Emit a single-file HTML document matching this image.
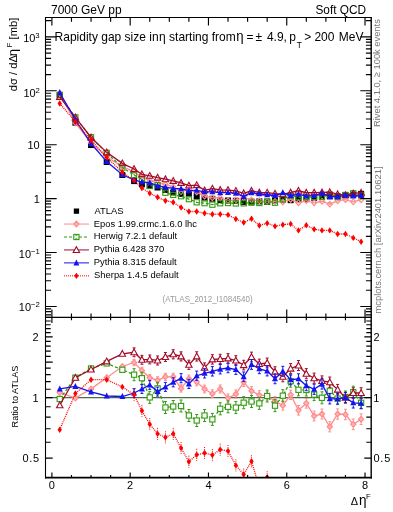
<!DOCTYPE html>
<html><head><meta charset="utf-8"><style>
html,body{margin:0;padding:0;background:#fff;}
body{width:393px;height:512px;overflow:hidden;position:relative;font-family:"Liberation Sans",sans-serif;}
svg{position:absolute;left:0;top:0;will-change:transform;}
.t{position:absolute;white-space:nowrap;line-height:1;color:#000;}
</style></head><body>
<svg width="393" height="512" viewBox="0 0 393 512" font-family="Liberation Sans, sans-serif">
<defs><clipPath id="cm"><rect x="46" y="18" width="325" height="299"/></clipPath><clipPath id="cr"><rect x="46" y="318" width="325" height="159.5"/></clipPath></defs>
<rect width="393" height="512" fill="#fff"/>
<line x1="45.5" y1="397.55" x2="371.5" y2="397.55" stroke="#4a6a44" stroke-width="1.2"/>
<rect x="56.73" y="91.8" width="6" height="6" fill="#000"/>
<rect x="72.38" y="119.7" width="6" height="6" fill="#000"/>
<rect x="88.04" y="142" width="6" height="6" fill="#000"/>
<rect x="103.7" y="159" width="6" height="6" fill="#000"/>
<rect x="119.35" y="172" width="6" height="6" fill="#000"/>
<rect x="131.09" y="178.1" width="6" height="6" fill="#000"/>
<rect x="138.92" y="181.35" width="6" height="6" fill="#000"/>
<rect x="146.75" y="183" width="6" height="6" fill="#000"/>
<rect x="154.58" y="184.5" width="6" height="6" fill="#000"/>
<rect x="162.41" y="187" width="6" height="6" fill="#000"/>
<rect x="170.23" y="189.45" width="6" height="6" fill="#000"/>
<rect x="178.06" y="190.9" width="6" height="6" fill="#000"/>
<rect x="185.89" y="191.3" width="6" height="6" fill="#000"/>
<rect x="193.72" y="193.1" width="6" height="6" fill="#000"/>
<rect x="201.55" y="195.3" width="6" height="6" fill="#000"/>
<rect x="209.37" y="195.8" width="6" height="6" fill="#000"/>
<rect x="217.2" y="197.2" width="6" height="6" fill="#000"/>
<rect x="225.03" y="197.5" width="6" height="6" fill="#000"/>
<rect x="232.86" y="197.75" width="6" height="6" fill="#000"/>
<rect x="240.69" y="198.9" width="6" height="6" fill="#000"/>
<rect x="248.51" y="198.6" width="6" height="6" fill="#000"/>
<rect x="256.34" y="198.4" width="6" height="6" fill="#000"/>
<rect x="264.17" y="198.8" width="6" height="6" fill="#000"/>
<rect x="272" y="197.5" width="6" height="6" fill="#000"/>
<rect x="279.83" y="196.8" width="6" height="6" fill="#000"/>
<rect x="287.65" y="197.2" width="6" height="6" fill="#000"/>
<rect x="295.48" y="196.3" width="6" height="6" fill="#000"/>
<rect x="303.31" y="196.1" width="6" height="6" fill="#000"/>
<rect x="311.14" y="194.8" width="6" height="6" fill="#000"/>
<rect x="318.97" y="193.8" width="6" height="6" fill="#000"/>
<rect x="326.79" y="193.3" width="6" height="6" fill="#000"/>
<rect x="334.62" y="193.3" width="6" height="6" fill="#000"/>
<rect x="342.45" y="192.1" width="6" height="6" fill="#000"/>
<rect x="350.28" y="191.65" width="6" height="6" fill="#000"/>
<rect x="358.11" y="190.9" width="6" height="6" fill="#000"/>
<polyline clip-path="url(#cm)" points="59.73,93.49 75.38,122.86 91.04,142.72 106.7,156.72 122.35,166.72 134.09,171.75 141.92,177.17 149.75,180.75 157.58,182.89 165.41,184.48 173.23,186.93 181.06,191.49 188.89,189.32 196.72,191.97 204.55,196.05 212.37,197.81 220.2,197.95 228.03,200.69 235.86,199.87 243.69,197.85 251.51,199.89 259.34,200.78 267.17,201.34 275,201.52 282.83,201.97 290.65,199.5 298.48,202.76 306.31,200.68 314.14,202.78 321.97,201.25 329.79,204.18 337.62,200.75 345.45,199.68 353.28,201.86 361.11,199.74" fill="none" stroke="#ff8c8c" stroke-width="1.3"/>
<polyline clip-path="url(#cr)" points="59.73,392.5 75.38,398 91.04,388.9 106.7,377.7 122.35,366.5 134.09,362.5 141.92,370.6 149.75,377.8 157.58,380.2 165.41,376.8 173.23,376.8 181.06,388.4 188.89,378.8 196.72,382 204.55,389 212.37,393.7 220.2,389 228.03,398.1 235.86,394.1 243.69,382.3 251.51,391 259.34,395.1 267.17,395.7 275,401.2 282.83,405.5 290.65,394.8 298.48,410.3 306.31,403.3 314.14,416 321.97,414 329.79,426.8 337.62,414 345.45,414.5 353.28,424.3 361.11,419.2" fill="none" stroke="#ff8c8c" stroke-width="1.3"/>
<g clip-path="url(#cm)"><polygon points="59.73,90.69 62.33,93.49 59.73,96.29 57.13,93.49" fill="none" stroke="#ff8c8c" stroke-width="1.2"/></g>
<g clip-path="url(#cr)"><polygon points="59.73,389.7 62.33,392.5 59.73,395.3 57.13,392.5" fill="#ffb4b4" stroke="#ff8c8c" stroke-width="1.2"/></g>
<g clip-path="url(#cm)"><polygon points="75.38,120.06 77.98,122.86 75.38,125.66 72.78,122.86" fill="none" stroke="#ff8c8c" stroke-width="1.2"/></g>
<g clip-path="url(#cr)"><polygon points="75.38,395.2 77.98,398 75.38,400.8 72.78,398" fill="#ffb4b4" stroke="#ff8c8c" stroke-width="1.2"/></g>
<g clip-path="url(#cm)"><polygon points="91.04,139.92 93.64,142.72 91.04,145.52 88.44,142.72" fill="none" stroke="#ff8c8c" stroke-width="1.2"/></g>
<g clip-path="url(#cr)"><polygon points="91.04,386.1 93.64,388.9 91.04,391.7 88.44,388.9" fill="#ffb4b4" stroke="#ff8c8c" stroke-width="1.2"/></g>
<g clip-path="url(#cm)"><polygon points="106.7,153.92 109.3,156.72 106.7,159.52 104.1,156.72" fill="none" stroke="#ff8c8c" stroke-width="1.2"/></g>
<g clip-path="url(#cr)"><polygon points="106.7,374.9 109.3,377.7 106.7,380.5 104.1,377.7" fill="#ffb4b4" stroke="#ff8c8c" stroke-width="1.2"/></g>
<g clip-path="url(#cm)"><polygon points="122.35,163.92 124.95,166.72 122.35,169.52 119.75,166.72" fill="none" stroke="#ff8c8c" stroke-width="1.2"/></g>
<g clip-path="url(#cr)"><polygon points="122.35,363.7 124.95,366.5 122.35,369.3 119.75,366.5" fill="#ffb4b4" stroke="#ff8c8c" stroke-width="1.2"/></g>
<g clip-path="url(#cr)" stroke="#ff8c8c" stroke-width="1"><path d="M134.09,359.3V359.7M134.09,365.3V365.7"/><line x1="132.59" y1="359.3" x2="135.59" y2="359.3"/><line x1="132.59" y1="365.7" x2="135.59" y2="365.7"/></g>
<g clip-path="url(#cm)"><polygon points="134.09,168.95 136.69,171.75 134.09,174.55 131.49,171.75" fill="none" stroke="#ff8c8c" stroke-width="1.2"/></g>
<g clip-path="url(#cr)"><polygon points="134.09,359.7 136.69,362.5 134.09,365.3 131.49,362.5" fill="#ffb4b4" stroke="#ff8c8c" stroke-width="1.2"/></g>
<g clip-path="url(#cr)" stroke="#ff8c8c" stroke-width="1"><path d="M141.92,367.33V367.8M141.92,373.4V373.88"/><line x1="140.42" y1="367.33" x2="143.42" y2="367.33"/><line x1="140.42" y1="373.88" x2="143.42" y2="373.88"/></g>
<g clip-path="url(#cm)"><polygon points="141.92,174.37 144.52,177.17 141.92,179.97 139.32,177.17" fill="none" stroke="#ff8c8c" stroke-width="1.2"/></g>
<g clip-path="url(#cr)"><polygon points="141.92,367.8 144.52,370.6 141.92,373.4 139.32,370.6" fill="#ffb4b4" stroke="#ff8c8c" stroke-width="1.2"/></g>
<g clip-path="url(#cr)" stroke="#ff8c8c" stroke-width="1"><path d="M149.75,374.45V375M149.75,380.6V381.15"/><line x1="148.25" y1="374.45" x2="151.25" y2="374.45"/><line x1="148.25" y1="381.15" x2="151.25" y2="381.15"/></g>
<g clip-path="url(#cm)"><polygon points="149.75,177.95 152.35,180.75 149.75,183.55 147.15,180.75" fill="none" stroke="#ff8c8c" stroke-width="1.2"/></g>
<g clip-path="url(#cr)"><polygon points="149.75,375 152.35,377.8 149.75,380.6 147.15,377.8" fill="#ffb4b4" stroke="#ff8c8c" stroke-width="1.2"/></g>
<g clip-path="url(#cr)" stroke="#ff8c8c" stroke-width="1"><path d="M157.58,376.77V377.4M157.58,383V383.62"/><line x1="156.08" y1="376.77" x2="159.08" y2="376.77"/><line x1="156.08" y1="383.62" x2="159.08" y2="383.62"/></g>
<g clip-path="url(#cm)"><polygon points="157.58,180.09 160.18,182.89 157.58,185.69 154.98,182.89" fill="none" stroke="#ff8c8c" stroke-width="1.2"/></g>
<g clip-path="url(#cr)"><polygon points="157.58,377.4 160.18,380.2 157.58,383 154.98,380.2" fill="#ffb4b4" stroke="#ff8c8c" stroke-width="1.2"/></g>
<g clip-path="url(#cr)" stroke="#ff8c8c" stroke-width="1"><path d="M165.41,373.3V374M165.41,379.6V380.3"/><line x1="163.91" y1="373.3" x2="166.91" y2="373.3"/><line x1="163.91" y1="380.3" x2="166.91" y2="380.3"/></g>
<g clip-path="url(#cm)"><polygon points="165.41,181.68 168.01,184.48 165.41,187.28 162.81,184.48" fill="none" stroke="#ff8c8c" stroke-width="1.2"/></g>
<g clip-path="url(#cr)"><polygon points="165.41,374 168.01,376.8 165.41,379.6 162.81,376.8" fill="#ffb4b4" stroke="#ff8c8c" stroke-width="1.2"/></g>
<g clip-path="url(#cr)" stroke="#ff8c8c" stroke-width="1"><path d="M173.23,373.23V374M173.23,379.6V380.38"/><line x1="171.73" y1="373.23" x2="174.73" y2="373.23"/><line x1="171.73" y1="380.38" x2="174.73" y2="380.38"/></g>
<g clip-path="url(#cm)"><polygon points="173.23,184.13 175.83,186.93 173.23,189.73 170.63,186.93" fill="none" stroke="#ff8c8c" stroke-width="1.2"/></g>
<g clip-path="url(#cr)"><polygon points="173.23,374 175.83,376.8 173.23,379.6 170.63,376.8" fill="#ffb4b4" stroke="#ff8c8c" stroke-width="1.2"/></g>
<g clip-path="url(#cr)" stroke="#ff8c8c" stroke-width="1"><path d="M181.06,384.75V385.6M181.06,391.2V392.05"/><line x1="179.56" y1="384.75" x2="182.56" y2="384.75"/><line x1="179.56" y1="392.05" x2="182.56" y2="392.05"/></g>
<g clip-path="url(#cm)"><polygon points="181.06,188.69 183.66,191.49 181.06,194.29 178.46,191.49" fill="none" stroke="#ff8c8c" stroke-width="1.2"/></g>
<g clip-path="url(#cr)"><polygon points="181.06,385.6 183.66,388.4 181.06,391.2 178.46,388.4" fill="#ffb4b4" stroke="#ff8c8c" stroke-width="1.2"/></g>
<g clip-path="url(#cr)" stroke="#ff8c8c" stroke-width="1"><path d="M188.89,375.07V376M188.89,381.6V382.53"/><line x1="187.39" y1="375.07" x2="190.39" y2="375.07"/><line x1="187.39" y1="382.53" x2="190.39" y2="382.53"/></g>
<g clip-path="url(#cm)"><polygon points="188.89,186.52 191.49,189.32 188.89,192.12 186.29,189.32" fill="none" stroke="#ff8c8c" stroke-width="1.2"/></g>
<g clip-path="url(#cr)"><polygon points="188.89,376 191.49,378.8 188.89,381.6 186.29,378.8" fill="#ffb4b4" stroke="#ff8c8c" stroke-width="1.2"/></g>
<g clip-path="url(#cr)" stroke="#ff8c8c" stroke-width="1"><path d="M196.72,378.2V379.2M196.72,384.8V385.8"/><line x1="195.22" y1="378.2" x2="198.22" y2="378.2"/><line x1="195.22" y1="385.8" x2="198.22" y2="385.8"/></g>
<g clip-path="url(#cm)"><polygon points="196.72,189.17 199.32,191.97 196.72,194.77 194.12,191.97" fill="none" stroke="#ff8c8c" stroke-width="1.2"/></g>
<g clip-path="url(#cr)"><polygon points="196.72,379.2 199.32,382 196.72,384.8 194.12,382" fill="#ffb4b4" stroke="#ff8c8c" stroke-width="1.2"/></g>
<g clip-path="url(#cr)" stroke="#ff8c8c" stroke-width="1"><path d="M204.55,385.12V386.2M204.55,391.8V392.88"/><line x1="203.05" y1="385.12" x2="206.05" y2="385.12"/><line x1="203.05" y1="392.88" x2="206.05" y2="392.88"/></g>
<g clip-path="url(#cm)"><polygon points="204.55,193.25 207.15,196.05 204.55,198.85 201.95,196.05" fill="none" stroke="#ff8c8c" stroke-width="1.2"/></g>
<g clip-path="url(#cr)"><polygon points="204.55,386.2 207.15,389 204.55,391.8 201.95,389" fill="#ffb4b4" stroke="#ff8c8c" stroke-width="1.2"/></g>
<g clip-path="url(#cr)" stroke="#ff8c8c" stroke-width="1"><path d="M212.37,389.75V390.9M212.37,396.5V397.65"/><line x1="210.87" y1="389.75" x2="213.87" y2="389.75"/><line x1="210.87" y1="397.65" x2="213.87" y2="397.65"/></g>
<g clip-path="url(#cm)"><polygon points="212.37,195.01 214.97,197.81 212.37,200.61 209.77,197.81" fill="none" stroke="#ff8c8c" stroke-width="1.2"/></g>
<g clip-path="url(#cr)"><polygon points="212.37,390.9 214.97,393.7 212.37,396.5 209.77,393.7" fill="#ffb4b4" stroke="#ff8c8c" stroke-width="1.2"/></g>
<g clip-path="url(#cr)" stroke="#ff8c8c" stroke-width="1"><path d="M220.2,384.98V386.2M220.2,391.8V393.02"/><line x1="218.7" y1="384.98" x2="221.7" y2="384.98"/><line x1="218.7" y1="393.02" x2="221.7" y2="393.02"/></g>
<g clip-path="url(#cm)"><polygon points="220.2,195.15 222.8,197.95 220.2,200.75 217.6,197.95" fill="none" stroke="#ff8c8c" stroke-width="1.2"/></g>
<g clip-path="url(#cr)"><polygon points="220.2,386.2 222.8,389 220.2,391.8 217.6,389" fill="#ffb4b4" stroke="#ff8c8c" stroke-width="1.2"/></g>
<g clip-path="url(#cr)" stroke="#ff8c8c" stroke-width="1"><path d="M228.03,394V395.3M228.03,400.9V402.2"/><line x1="226.53" y1="394" x2="229.53" y2="394"/><line x1="226.53" y1="402.2" x2="229.53" y2="402.2"/></g>
<g clip-path="url(#cm)"><polygon points="228.03,197.89 230.63,200.69 228.03,203.49 225.43,200.69" fill="none" stroke="#ff8c8c" stroke-width="1.2"/></g>
<g clip-path="url(#cr)"><polygon points="228.03,395.3 230.63,398.1 228.03,400.9 225.43,398.1" fill="#ffb4b4" stroke="#ff8c8c" stroke-width="1.2"/></g>
<g clip-path="url(#cr)" stroke="#ff8c8c" stroke-width="1"><path d="M235.86,389.93V391.3M235.86,396.9V398.28"/><line x1="234.36" y1="389.93" x2="237.36" y2="389.93"/><line x1="234.36" y1="398.28" x2="237.36" y2="398.28"/></g>
<g clip-path="url(#cm)"><polygon points="235.86,197.07 238.46,199.87 235.86,202.67 233.26,199.87" fill="none" stroke="#ff8c8c" stroke-width="1.2"/></g>
<g clip-path="url(#cr)"><polygon points="235.86,391.3 238.46,394.1 235.86,396.9 233.26,394.1" fill="#ffb4b4" stroke="#ff8c8c" stroke-width="1.2"/></g>
<g clip-path="url(#cr)" stroke="#ff8c8c" stroke-width="1"><path d="M243.69,378.05V379.5M243.69,385.1V386.55"/><line x1="242.19" y1="378.05" x2="245.19" y2="378.05"/><line x1="242.19" y1="386.55" x2="245.19" y2="386.55"/></g>
<g clip-path="url(#cm)"><polygon points="243.69,195.05 246.29,197.85 243.69,200.65 241.09,197.85" fill="none" stroke="#ff8c8c" stroke-width="1.2"/></g>
<g clip-path="url(#cr)"><polygon points="243.69,379.5 246.29,382.3 243.69,385.1 241.09,382.3" fill="#ffb4b4" stroke="#ff8c8c" stroke-width="1.2"/></g>
<g clip-path="url(#cr)" stroke="#ff8c8c" stroke-width="1"><path d="M251.51,386.68V388.2M251.51,393.8V395.32"/><line x1="250.01" y1="386.68" x2="253.01" y2="386.68"/><line x1="250.01" y1="395.32" x2="253.01" y2="395.32"/></g>
<g clip-path="url(#cm)"><polygon points="251.51,197.09 254.11,199.89 251.51,202.69 248.91,199.89" fill="none" stroke="#ff8c8c" stroke-width="1.2"/></g>
<g clip-path="url(#cr)"><polygon points="251.51,388.2 254.11,391 251.51,393.8 248.91,391" fill="#ffb4b4" stroke="#ff8c8c" stroke-width="1.2"/></g>
<g clip-path="url(#cr)" stroke="#ff8c8c" stroke-width="1"><path d="M259.34,390.7V392.3M259.34,397.9V399.5"/><line x1="257.84" y1="390.7" x2="260.84" y2="390.7"/><line x1="257.84" y1="399.5" x2="260.84" y2="399.5"/></g>
<g clip-path="url(#cm)"><polygon points="259.34,197.98 261.94,200.78 259.34,203.58 256.74,200.78" fill="none" stroke="#ff8c8c" stroke-width="1.2"/></g>
<g clip-path="url(#cr)"><polygon points="259.34,392.3 261.94,395.1 259.34,397.9 256.74,395.1" fill="#ffb4b4" stroke="#ff8c8c" stroke-width="1.2"/></g>
<g clip-path="url(#cr)" stroke="#ff8c8c" stroke-width="1"><path d="M267.17,391.22V392.9M267.17,398.5V400.18"/><line x1="265.67" y1="391.22" x2="268.67" y2="391.22"/><line x1="265.67" y1="400.18" x2="268.67" y2="400.18"/></g>
<g clip-path="url(#cm)"><polygon points="267.17,198.54 269.77,201.34 267.17,204.14 264.57,201.34" fill="none" stroke="#ff8c8c" stroke-width="1.2"/></g>
<g clip-path="url(#cr)"><polygon points="267.17,392.9 269.77,395.7 267.17,398.5 264.57,395.7" fill="#ffb4b4" stroke="#ff8c8c" stroke-width="1.2"/></g>
<g clip-path="url(#cr)" stroke="#ff8c8c" stroke-width="1"><path d="M275,396.65V398.4M275,404V405.75"/><line x1="273.5" y1="396.65" x2="276.5" y2="396.65"/><line x1="273.5" y1="405.75" x2="276.5" y2="405.75"/></g>
<g clip-path="url(#cm)"><polygon points="275,198.72 277.6,201.52 275,204.32 272.4,201.52" fill="none" stroke="#ff8c8c" stroke-width="1.2"/></g>
<g clip-path="url(#cr)"><polygon points="275,398.4 277.6,401.2 275,404 272.4,401.2" fill="#ffb4b4" stroke="#ff8c8c" stroke-width="1.2"/></g>
<g clip-path="url(#cr)" stroke="#ff8c8c" stroke-width="1"><path d="M282.83,400.88V402.7M282.83,408.3V410.12"/><line x1="281.33" y1="400.88" x2="284.33" y2="400.88"/><line x1="281.33" y1="410.12" x2="284.33" y2="410.12"/></g>
<g clip-path="url(#cm)"><polygon points="282.83,199.17 285.43,201.97 282.83,204.77 280.23,201.97" fill="none" stroke="#ff8c8c" stroke-width="1.2"/></g>
<g clip-path="url(#cr)"><polygon points="282.83,402.7 285.43,405.5 282.83,408.3 280.23,405.5" fill="#ffb4b4" stroke="#ff8c8c" stroke-width="1.2"/></g>
<g clip-path="url(#cr)" stroke="#ff8c8c" stroke-width="1"><path d="M290.65,390.1V392M290.65,397.6V399.5"/><line x1="289.15" y1="390.1" x2="292.15" y2="390.1"/><line x1="289.15" y1="399.5" x2="292.15" y2="399.5"/></g>
<g clip-path="url(#cm)"><polygon points="290.65,196.7 293.25,199.5 290.65,202.3 288.05,199.5" fill="none" stroke="#ff8c8c" stroke-width="1.2"/></g>
<g clip-path="url(#cr)"><polygon points="290.65,392 293.25,394.8 290.65,397.6 288.05,394.8" fill="#ffb4b4" stroke="#ff8c8c" stroke-width="1.2"/></g>
<g clip-path="url(#cr)" stroke="#ff8c8c" stroke-width="1"><path d="M298.48,405.53V407.5M298.48,413.1V415.07"/><line x1="296.98" y1="405.53" x2="299.98" y2="405.53"/><line x1="296.98" y1="415.07" x2="299.98" y2="415.07"/></g>
<g clip-path="url(#cm)"><polygon points="298.48,199.96 301.08,202.76 298.48,205.56 295.88,202.76" fill="none" stroke="#ff8c8c" stroke-width="1.2"/></g>
<g clip-path="url(#cr)"><polygon points="298.48,407.5 301.08,410.3 298.48,413.1 295.88,410.3" fill="#ffb4b4" stroke="#ff8c8c" stroke-width="1.2"/></g>
<g clip-path="url(#cr)" stroke="#ff8c8c" stroke-width="1"><path d="M306.31,398.45V400.5M306.31,406.1V408.15"/><line x1="304.81" y1="398.45" x2="307.81" y2="398.45"/><line x1="304.81" y1="408.15" x2="307.81" y2="408.15"/></g>
<g clip-path="url(#cm)"><polygon points="306.31,197.88 308.91,200.68 306.31,203.48 303.71,200.68" fill="none" stroke="#ff8c8c" stroke-width="1.2"/></g>
<g clip-path="url(#cr)"><polygon points="306.31,400.5 308.91,403.3 306.31,406.1 303.71,403.3" fill="#ffb4b4" stroke="#ff8c8c" stroke-width="1.2"/></g>
<g clip-path="url(#cr)" stroke="#ff8c8c" stroke-width="1"><path d="M314.14,411.07V413.2M314.14,418.8V420.93"/><line x1="312.64" y1="411.07" x2="315.64" y2="411.07"/><line x1="312.64" y1="420.93" x2="315.64" y2="420.93"/></g>
<g clip-path="url(#cm)"><polygon points="314.14,199.98 316.74,202.78 314.14,205.58 311.54,202.78" fill="none" stroke="#ff8c8c" stroke-width="1.2"/></g>
<g clip-path="url(#cr)"><polygon points="314.14,413.2 316.74,416 314.14,418.8 311.54,416" fill="#ffb4b4" stroke="#ff8c8c" stroke-width="1.2"/></g>
<g clip-path="url(#cr)" stroke="#ff8c8c" stroke-width="1"><path d="M321.97,409V411.2M321.97,416.8V419"/><line x1="320.47" y1="409" x2="323.47" y2="409"/><line x1="320.47" y1="419" x2="323.47" y2="419"/></g>
<g clip-path="url(#cm)"><polygon points="321.97,198.45 324.57,201.25 321.97,204.05 319.37,201.25" fill="none" stroke="#ff8c8c" stroke-width="1.2"/></g>
<g clip-path="url(#cr)"><polygon points="321.97,411.2 324.57,414 321.97,416.8 319.37,414" fill="#ffb4b4" stroke="#ff8c8c" stroke-width="1.2"/></g>
<g clip-path="url(#cr)" stroke="#ff8c8c" stroke-width="1"><path d="M329.79,421.73V424M329.79,429.6V431.88"/><line x1="328.29" y1="421.73" x2="331.29" y2="421.73"/><line x1="328.29" y1="431.88" x2="331.29" y2="431.88"/></g>
<g clip-path="url(#cm)"><polygon points="329.79,201.38 332.39,204.18 329.79,206.98 327.19,204.18" fill="none" stroke="#ff8c8c" stroke-width="1.2"/></g>
<g clip-path="url(#cr)"><polygon points="329.79,424 332.39,426.8 329.79,429.6 327.19,426.8" fill="#ffb4b4" stroke="#ff8c8c" stroke-width="1.2"/></g>
<g clip-path="url(#cr)" stroke="#ff8c8c" stroke-width="1"><path d="M337.62,408.85V411.2M337.62,416.8V419.15"/><line x1="336.12" y1="408.85" x2="339.12" y2="408.85"/><line x1="336.12" y1="419.15" x2="339.12" y2="419.15"/></g>
<g clip-path="url(#cm)"><polygon points="337.62,197.95 340.22,200.75 337.62,203.55 335.02,200.75" fill="none" stroke="#ff8c8c" stroke-width="1.2"/></g>
<g clip-path="url(#cr)"><polygon points="337.62,411.2 340.22,414 337.62,416.8 335.02,414" fill="#ffb4b4" stroke="#ff8c8c" stroke-width="1.2"/></g>
<g clip-path="url(#cr)" stroke="#ff8c8c" stroke-width="1"><path d="M345.45,409.27V411.7M345.45,417.3V419.73"/><line x1="343.95" y1="409.27" x2="346.95" y2="409.27"/><line x1="343.95" y1="419.73" x2="346.95" y2="419.73"/></g>
<g clip-path="url(#cm)"><polygon points="345.45,196.88 348.05,199.68 345.45,202.48 342.85,199.68" fill="none" stroke="#ff8c8c" stroke-width="1.2"/></g>
<g clip-path="url(#cr)"><polygon points="345.45,411.7 348.05,414.5 345.45,417.3 342.85,414.5" fill="#ffb4b4" stroke="#ff8c8c" stroke-width="1.2"/></g>
<g clip-path="url(#cr)" stroke="#ff8c8c" stroke-width="1"><path d="M353.28,419V421.5M353.28,427.1V429.6"/><line x1="351.78" y1="419" x2="354.78" y2="419"/><line x1="351.78" y1="429.6" x2="354.78" y2="429.6"/></g>
<g clip-path="url(#cm)"><polygon points="353.28,199.06 355.88,201.86 353.28,204.66 350.68,201.86" fill="none" stroke="#ff8c8c" stroke-width="1.2"/></g>
<g clip-path="url(#cr)"><polygon points="353.28,421.5 355.88,424.3 353.28,427.1 350.68,424.3" fill="#ffb4b4" stroke="#ff8c8c" stroke-width="1.2"/></g>
<g clip-path="url(#cr)" stroke="#ff8c8c" stroke-width="1"><path d="M361.11,413.82V416.4M361.11,422V424.57"/><line x1="359.61" y1="413.82" x2="362.61" y2="413.82"/><line x1="359.61" y1="424.57" x2="362.61" y2="424.57"/></g>
<g clip-path="url(#cm)"><polygon points="361.11,196.94 363.71,199.74 361.11,202.54 358.51,199.74" fill="none" stroke="#ff8c8c" stroke-width="1.2"/></g>
<g clip-path="url(#cr)"><polygon points="361.11,416.4 363.71,419.2 361.11,422 358.51,419.2" fill="#ffb4b4" stroke="#ff8c8c" stroke-width="1.2"/></g>
<polyline clip-path="url(#cm)" points="59.73,95.23 75.38,117.42 91.04,137.26 106.7,152.89 122.35,167.6 134.09,175.02 141.92,179.21 149.75,186 157.58,185.09 165.41,192.71 173.23,194.89 181.06,196.2 188.89,199.15 196.72,202.29 204.55,203.15 212.37,204.69 220.2,203.25 228.03,203.02 235.86,203.48 243.69,203.32 251.51,202.7 259.34,203.01 267.17,201.42 275,202.72 282.83,199.34 290.65,195.86 298.48,197.26 306.31,197.12 314.14,197.05 321.97,196.91 329.79,194.53 337.62,196.62 345.45,194.99 353.28,193.26 361.11,195.35" fill="none" stroke="#339a11" stroke-width="1.3" stroke-dasharray="3,2"/>
<polyline clip-path="url(#cr)" points="59.73,399 75.38,377.7 91.04,368.5 106.7,363.4 122.35,369.8 134.09,374.7 141.92,378.2 149.75,397.4 157.58,388.4 165.41,407.5 173.23,406.5 181.06,406 188.89,415.5 196.72,420.5 204.55,415.5 212.37,419.4 220.2,408.8 228.03,406.8 235.86,407.6 243.69,402.7 251.51,401.5 259.34,403.4 267.17,396 275,405.7 282.83,395.7 290.65,381.2 298.48,389.8 306.31,390 314.14,394.6 321.97,397.8 329.79,390.8 337.62,398.6 345.45,397 353.28,392.2 361.11,402.8" fill="none" stroke="#339a11" stroke-width="1.3" stroke-dasharray="3,2"/>
<g clip-path="url(#cm)"><rect x="57.13" y="92.63" width="5.2" height="5.2" fill="none" stroke="#339a11" stroke-width="1.1"/></g>
<g clip-path="url(#cr)"><rect x="57.13" y="396.4" width="5.2" height="5.2" fill="#fff" stroke="#339a11" stroke-width="1.1"/></g>
<g clip-path="url(#cm)"><rect x="72.78" y="114.82" width="5.2" height="5.2" fill="none" stroke="#339a11" stroke-width="1.1"/></g>
<g clip-path="url(#cr)"><rect x="72.78" y="375.1" width="5.2" height="5.2" fill="#fff" stroke="#339a11" stroke-width="1.1"/></g>
<g clip-path="url(#cm)"><rect x="88.44" y="134.66" width="5.2" height="5.2" fill="none" stroke="#339a11" stroke-width="1.1"/></g>
<g clip-path="url(#cr)"><rect x="88.44" y="365.9" width="5.2" height="5.2" fill="#fff" stroke="#339a11" stroke-width="1.1"/></g>
<g clip-path="url(#cm)"><rect x="104.1" y="150.29" width="5.2" height="5.2" fill="none" stroke="#339a11" stroke-width="1.1"/></g>
<g clip-path="url(#cr)"><rect x="104.1" y="360.8" width="5.2" height="5.2" fill="#fff" stroke="#339a11" stroke-width="1.1"/></g>
<g clip-path="url(#cm)"><rect x="119.75" y="165" width="5.2" height="5.2" fill="none" stroke="#339a11" stroke-width="1.1"/></g>
<g clip-path="url(#cr)"><rect x="119.75" y="367.2" width="5.2" height="5.2" fill="#fff" stroke="#339a11" stroke-width="1.1"/></g>
<g clip-path="url(#cr)" stroke="#339a11" stroke-width="1"><path d="M134.09,368.7V371.9M134.09,377.5V380.7"/><line x1="132.59" y1="368.7" x2="135.59" y2="368.7"/><line x1="132.59" y1="380.7" x2="135.59" y2="380.7"/></g>
<g clip-path="url(#cm)"><rect x="131.49" y="172.42" width="5.2" height="5.2" fill="none" stroke="#339a11" stroke-width="1.1"/></g>
<g clip-path="url(#cr)"><rect x="131.49" y="372.1" width="5.2" height="5.2" fill="#fff" stroke="#339a11" stroke-width="1.1"/></g>
<g clip-path="url(#cr)" stroke="#339a11" stroke-width="1"><path d="M141.92,372.2V375.4M141.92,381V384.2"/><line x1="140.42" y1="372.2" x2="143.42" y2="372.2"/><line x1="140.42" y1="384.2" x2="143.42" y2="384.2"/></g>
<g clip-path="url(#cm)"><rect x="139.32" y="176.61" width="5.2" height="5.2" fill="none" stroke="#339a11" stroke-width="1.1"/></g>
<g clip-path="url(#cr)"><rect x="139.32" y="375.6" width="5.2" height="5.2" fill="#fff" stroke="#339a11" stroke-width="1.1"/></g>
<g clip-path="url(#cr)" stroke="#339a11" stroke-width="1"><path d="M149.75,391.4V394.6M149.75,400.2V403.4"/><line x1="148.25" y1="391.4" x2="151.25" y2="391.4"/><line x1="148.25" y1="403.4" x2="151.25" y2="403.4"/></g>
<g clip-path="url(#cm)"><rect x="147.15" y="183.4" width="5.2" height="5.2" fill="none" stroke="#339a11" stroke-width="1.1"/></g>
<g clip-path="url(#cr)"><rect x="147.15" y="394.8" width="5.2" height="5.2" fill="#fff" stroke="#339a11" stroke-width="1.1"/></g>
<g clip-path="url(#cr)" stroke="#339a11" stroke-width="1"><path d="M157.58,382.4V385.6M157.58,391.2V394.4"/><line x1="156.08" y1="382.4" x2="159.08" y2="382.4"/><line x1="156.08" y1="394.4" x2="159.08" y2="394.4"/></g>
<g clip-path="url(#cm)"><rect x="154.98" y="182.49" width="5.2" height="5.2" fill="none" stroke="#339a11" stroke-width="1.1"/></g>
<g clip-path="url(#cr)"><rect x="154.98" y="385.8" width="5.2" height="5.2" fill="#fff" stroke="#339a11" stroke-width="1.1"/></g>
<g clip-path="url(#cr)" stroke="#339a11" stroke-width="1"><path d="M165.41,401.5V404.7M165.41,410.3V413.5"/><line x1="163.91" y1="401.5" x2="166.91" y2="401.5"/><line x1="163.91" y1="413.5" x2="166.91" y2="413.5"/></g>
<g clip-path="url(#cm)"><rect x="162.81" y="190.11" width="5.2" height="5.2" fill="none" stroke="#339a11" stroke-width="1.1"/></g>
<g clip-path="url(#cr)"><rect x="162.81" y="404.9" width="5.2" height="5.2" fill="#fff" stroke="#339a11" stroke-width="1.1"/></g>
<g clip-path="url(#cr)" stroke="#339a11" stroke-width="1"><path d="M173.23,400.5V403.7M173.23,409.3V412.5"/><line x1="171.73" y1="400.5" x2="174.73" y2="400.5"/><line x1="171.73" y1="412.5" x2="174.73" y2="412.5"/></g>
<g clip-path="url(#cm)"><rect x="170.63" y="192.29" width="5.2" height="5.2" fill="none" stroke="#339a11" stroke-width="1.1"/></g>
<g clip-path="url(#cr)"><rect x="170.63" y="403.9" width="5.2" height="5.2" fill="#fff" stroke="#339a11" stroke-width="1.1"/></g>
<g clip-path="url(#cr)" stroke="#339a11" stroke-width="1"><path d="M181.06,400V403.2M181.06,408.8V412"/><line x1="179.56" y1="400" x2="182.56" y2="400"/><line x1="179.56" y1="412" x2="182.56" y2="412"/></g>
<g clip-path="url(#cm)"><rect x="178.46" y="193.6" width="5.2" height="5.2" fill="none" stroke="#339a11" stroke-width="1.1"/></g>
<g clip-path="url(#cr)"><rect x="178.46" y="403.4" width="5.2" height="5.2" fill="#fff" stroke="#339a11" stroke-width="1.1"/></g>
<g clip-path="url(#cr)" stroke="#339a11" stroke-width="1"><path d="M188.89,409.5V412.7M188.89,418.3V421.5"/><line x1="187.39" y1="409.5" x2="190.39" y2="409.5"/><line x1="187.39" y1="421.5" x2="190.39" y2="421.5"/></g>
<g clip-path="url(#cm)"><rect x="186.29" y="196.55" width="5.2" height="5.2" fill="none" stroke="#339a11" stroke-width="1.1"/></g>
<g clip-path="url(#cr)"><rect x="186.29" y="412.9" width="5.2" height="5.2" fill="#fff" stroke="#339a11" stroke-width="1.1"/></g>
<g clip-path="url(#cr)" stroke="#339a11" stroke-width="1"><path d="M196.72,414.5V417.7M196.72,423.3V426.5"/><line x1="195.22" y1="414.5" x2="198.22" y2="414.5"/><line x1="195.22" y1="426.5" x2="198.22" y2="426.5"/></g>
<g clip-path="url(#cm)"><rect x="194.12" y="199.69" width="5.2" height="5.2" fill="none" stroke="#339a11" stroke-width="1.1"/></g>
<g clip-path="url(#cr)"><rect x="194.12" y="417.9" width="5.2" height="5.2" fill="#fff" stroke="#339a11" stroke-width="1.1"/></g>
<g clip-path="url(#cr)" stroke="#339a11" stroke-width="1"><path d="M204.55,409.5V412.7M204.55,418.3V421.5"/><line x1="203.05" y1="409.5" x2="206.05" y2="409.5"/><line x1="203.05" y1="421.5" x2="206.05" y2="421.5"/></g>
<g clip-path="url(#cm)"><rect x="201.95" y="200.55" width="5.2" height="5.2" fill="none" stroke="#339a11" stroke-width="1.1"/></g>
<g clip-path="url(#cr)"><rect x="201.95" y="412.9" width="5.2" height="5.2" fill="#fff" stroke="#339a11" stroke-width="1.1"/></g>
<g clip-path="url(#cr)" stroke="#339a11" stroke-width="1"><path d="M212.37,413.4V416.6M212.37,422.2V425.4"/><line x1="210.87" y1="413.4" x2="213.87" y2="413.4"/><line x1="210.87" y1="425.4" x2="213.87" y2="425.4"/></g>
<g clip-path="url(#cm)"><rect x="209.77" y="202.09" width="5.2" height="5.2" fill="none" stroke="#339a11" stroke-width="1.1"/></g>
<g clip-path="url(#cr)"><rect x="209.77" y="416.8" width="5.2" height="5.2" fill="#fff" stroke="#339a11" stroke-width="1.1"/></g>
<g clip-path="url(#cr)" stroke="#339a11" stroke-width="1"><path d="M220.2,402.8V406M220.2,411.6V414.8"/><line x1="218.7" y1="402.8" x2="221.7" y2="402.8"/><line x1="218.7" y1="414.8" x2="221.7" y2="414.8"/></g>
<g clip-path="url(#cm)"><rect x="217.6" y="200.65" width="5.2" height="5.2" fill="none" stroke="#339a11" stroke-width="1.1"/></g>
<g clip-path="url(#cr)"><rect x="217.6" y="406.2" width="5.2" height="5.2" fill="#fff" stroke="#339a11" stroke-width="1.1"/></g>
<g clip-path="url(#cr)" stroke="#339a11" stroke-width="1"><path d="M228.03,400.8V404M228.03,409.6V412.8"/><line x1="226.53" y1="400.8" x2="229.53" y2="400.8"/><line x1="226.53" y1="412.8" x2="229.53" y2="412.8"/></g>
<g clip-path="url(#cm)"><rect x="225.43" y="200.42" width="5.2" height="5.2" fill="none" stroke="#339a11" stroke-width="1.1"/></g>
<g clip-path="url(#cr)"><rect x="225.43" y="404.2" width="5.2" height="5.2" fill="#fff" stroke="#339a11" stroke-width="1.1"/></g>
<g clip-path="url(#cr)" stroke="#339a11" stroke-width="1"><path d="M235.86,401.6V404.8M235.86,410.4V413.6"/><line x1="234.36" y1="401.6" x2="237.36" y2="401.6"/><line x1="234.36" y1="413.6" x2="237.36" y2="413.6"/></g>
<g clip-path="url(#cm)"><rect x="233.26" y="200.88" width="5.2" height="5.2" fill="none" stroke="#339a11" stroke-width="1.1"/></g>
<g clip-path="url(#cr)"><rect x="233.26" y="405" width="5.2" height="5.2" fill="#fff" stroke="#339a11" stroke-width="1.1"/></g>
<g clip-path="url(#cr)" stroke="#339a11" stroke-width="1"><path d="M243.69,396.7V399.9M243.69,405.5V408.7"/><line x1="242.19" y1="396.7" x2="245.19" y2="396.7"/><line x1="242.19" y1="408.7" x2="245.19" y2="408.7"/></g>
<g clip-path="url(#cm)"><rect x="241.09" y="200.72" width="5.2" height="5.2" fill="none" stroke="#339a11" stroke-width="1.1"/></g>
<g clip-path="url(#cr)"><rect x="241.09" y="400.1" width="5.2" height="5.2" fill="#fff" stroke="#339a11" stroke-width="1.1"/></g>
<g clip-path="url(#cr)" stroke="#339a11" stroke-width="1"><path d="M251.51,395.5V398.7M251.51,404.3V407.5"/><line x1="250.01" y1="395.5" x2="253.01" y2="395.5"/><line x1="250.01" y1="407.5" x2="253.01" y2="407.5"/></g>
<g clip-path="url(#cm)"><rect x="248.91" y="200.1" width="5.2" height="5.2" fill="none" stroke="#339a11" stroke-width="1.1"/></g>
<g clip-path="url(#cr)"><rect x="248.91" y="398.9" width="5.2" height="5.2" fill="#fff" stroke="#339a11" stroke-width="1.1"/></g>
<g clip-path="url(#cr)" stroke="#339a11" stroke-width="1"><path d="M259.34,397.4V400.6M259.34,406.2V409.4"/><line x1="257.84" y1="397.4" x2="260.84" y2="397.4"/><line x1="257.84" y1="409.4" x2="260.84" y2="409.4"/></g>
<g clip-path="url(#cm)"><rect x="256.74" y="200.41" width="5.2" height="5.2" fill="none" stroke="#339a11" stroke-width="1.1"/></g>
<g clip-path="url(#cr)"><rect x="256.74" y="400.8" width="5.2" height="5.2" fill="#fff" stroke="#339a11" stroke-width="1.1"/></g>
<g clip-path="url(#cr)" stroke="#339a11" stroke-width="1"><path d="M267.17,390V393.2M267.17,398.8V402"/><line x1="265.67" y1="390" x2="268.67" y2="390"/><line x1="265.67" y1="402" x2="268.67" y2="402"/></g>
<g clip-path="url(#cm)"><rect x="264.57" y="198.82" width="5.2" height="5.2" fill="none" stroke="#339a11" stroke-width="1.1"/></g>
<g clip-path="url(#cr)"><rect x="264.57" y="393.4" width="5.2" height="5.2" fill="#fff" stroke="#339a11" stroke-width="1.1"/></g>
<g clip-path="url(#cr)" stroke="#339a11" stroke-width="1"><path d="M275,399.7V402.9M275,408.5V411.7"/><line x1="273.5" y1="399.7" x2="276.5" y2="399.7"/><line x1="273.5" y1="411.7" x2="276.5" y2="411.7"/></g>
<g clip-path="url(#cm)"><rect x="272.4" y="200.12" width="5.2" height="5.2" fill="none" stroke="#339a11" stroke-width="1.1"/></g>
<g clip-path="url(#cr)"><rect x="272.4" y="403.1" width="5.2" height="5.2" fill="#fff" stroke="#339a11" stroke-width="1.1"/></g>
<g clip-path="url(#cr)" stroke="#339a11" stroke-width="1"><path d="M282.83,389.7V392.9M282.83,398.5V401.7"/><line x1="281.33" y1="389.7" x2="284.33" y2="389.7"/><line x1="281.33" y1="401.7" x2="284.33" y2="401.7"/></g>
<g clip-path="url(#cm)"><rect x="280.23" y="196.74" width="5.2" height="5.2" fill="none" stroke="#339a11" stroke-width="1.1"/></g>
<g clip-path="url(#cr)"><rect x="280.23" y="393.1" width="5.2" height="5.2" fill="#fff" stroke="#339a11" stroke-width="1.1"/></g>
<g clip-path="url(#cr)" stroke="#339a11" stroke-width="1"><path d="M290.65,375.2V378.4M290.65,384V387.2"/><line x1="289.15" y1="375.2" x2="292.15" y2="375.2"/><line x1="289.15" y1="387.2" x2="292.15" y2="387.2"/></g>
<g clip-path="url(#cm)"><rect x="288.05" y="193.26" width="5.2" height="5.2" fill="none" stroke="#339a11" stroke-width="1.1"/></g>
<g clip-path="url(#cr)"><rect x="288.05" y="378.6" width="5.2" height="5.2" fill="#fff" stroke="#339a11" stroke-width="1.1"/></g>
<g clip-path="url(#cr)" stroke="#339a11" stroke-width="1"><path d="M298.48,383.8V387M298.48,392.6V395.8"/><line x1="296.98" y1="383.8" x2="299.98" y2="383.8"/><line x1="296.98" y1="395.8" x2="299.98" y2="395.8"/></g>
<g clip-path="url(#cm)"><rect x="295.88" y="194.66" width="5.2" height="5.2" fill="none" stroke="#339a11" stroke-width="1.1"/></g>
<g clip-path="url(#cr)"><rect x="295.88" y="387.2" width="5.2" height="5.2" fill="#fff" stroke="#339a11" stroke-width="1.1"/></g>
<g clip-path="url(#cr)" stroke="#339a11" stroke-width="1"><path d="M306.31,384V387.2M306.31,392.8V396"/><line x1="304.81" y1="384" x2="307.81" y2="384"/><line x1="304.81" y1="396" x2="307.81" y2="396"/></g>
<g clip-path="url(#cm)"><rect x="303.71" y="194.52" width="5.2" height="5.2" fill="none" stroke="#339a11" stroke-width="1.1"/></g>
<g clip-path="url(#cr)"><rect x="303.71" y="387.4" width="5.2" height="5.2" fill="#fff" stroke="#339a11" stroke-width="1.1"/></g>
<g clip-path="url(#cr)" stroke="#339a11" stroke-width="1"><path d="M314.14,388.6V391.8M314.14,397.4V400.6"/><line x1="312.64" y1="388.6" x2="315.64" y2="388.6"/><line x1="312.64" y1="400.6" x2="315.64" y2="400.6"/></g>
<g clip-path="url(#cm)"><rect x="311.54" y="194.45" width="5.2" height="5.2" fill="none" stroke="#339a11" stroke-width="1.1"/></g>
<g clip-path="url(#cr)"><rect x="311.54" y="392" width="5.2" height="5.2" fill="#fff" stroke="#339a11" stroke-width="1.1"/></g>
<g clip-path="url(#cr)" stroke="#339a11" stroke-width="1"><path d="M321.97,391.8V395M321.97,400.6V403.8"/><line x1="320.47" y1="391.8" x2="323.47" y2="391.8"/><line x1="320.47" y1="403.8" x2="323.47" y2="403.8"/></g>
<g clip-path="url(#cm)"><rect x="319.37" y="194.31" width="5.2" height="5.2" fill="none" stroke="#339a11" stroke-width="1.1"/></g>
<g clip-path="url(#cr)"><rect x="319.37" y="395.2" width="5.2" height="5.2" fill="#fff" stroke="#339a11" stroke-width="1.1"/></g>
<g clip-path="url(#cr)" stroke="#339a11" stroke-width="1"><path d="M329.79,384.8V388M329.79,393.6V396.8"/><line x1="328.29" y1="384.8" x2="331.29" y2="384.8"/><line x1="328.29" y1="396.8" x2="331.29" y2="396.8"/></g>
<g clip-path="url(#cm)"><rect x="327.19" y="191.93" width="5.2" height="5.2" fill="none" stroke="#339a11" stroke-width="1.1"/></g>
<g clip-path="url(#cr)"><rect x="327.19" y="388.2" width="5.2" height="5.2" fill="#fff" stroke="#339a11" stroke-width="1.1"/></g>
<g clip-path="url(#cr)" stroke="#339a11" stroke-width="1"><path d="M337.62,392.6V395.8M337.62,401.4V404.6"/><line x1="336.12" y1="392.6" x2="339.12" y2="392.6"/><line x1="336.12" y1="404.6" x2="339.12" y2="404.6"/></g>
<g clip-path="url(#cm)"><rect x="335.02" y="194.02" width="5.2" height="5.2" fill="none" stroke="#339a11" stroke-width="1.1"/></g>
<g clip-path="url(#cr)"><rect x="335.02" y="396" width="5.2" height="5.2" fill="#fff" stroke="#339a11" stroke-width="1.1"/></g>
<g clip-path="url(#cr)" stroke="#339a11" stroke-width="1"><path d="M345.45,391V394.2M345.45,399.8V403"/><line x1="343.95" y1="391" x2="346.95" y2="391"/><line x1="343.95" y1="403" x2="346.95" y2="403"/></g>
<g clip-path="url(#cm)"><rect x="342.85" y="192.39" width="5.2" height="5.2" fill="none" stroke="#339a11" stroke-width="1.1"/></g>
<g clip-path="url(#cr)"><rect x="342.85" y="394.4" width="5.2" height="5.2" fill="#fff" stroke="#339a11" stroke-width="1.1"/></g>
<g clip-path="url(#cr)" stroke="#339a11" stroke-width="1"><path d="M353.28,386.2V389.4M353.28,395V398.2"/><line x1="351.78" y1="386.2" x2="354.78" y2="386.2"/><line x1="351.78" y1="398.2" x2="354.78" y2="398.2"/></g>
<g clip-path="url(#cm)"><rect x="350.68" y="190.66" width="5.2" height="5.2" fill="none" stroke="#339a11" stroke-width="1.1"/></g>
<g clip-path="url(#cr)"><rect x="350.68" y="389.6" width="5.2" height="5.2" fill="#fff" stroke="#339a11" stroke-width="1.1"/></g>
<g clip-path="url(#cr)" stroke="#339a11" stroke-width="1"><path d="M361.11,396.8V400M361.11,405.6V408.8"/><line x1="359.61" y1="396.8" x2="362.61" y2="396.8"/><line x1="359.61" y1="408.8" x2="362.61" y2="408.8"/></g>
<g clip-path="url(#cm)"><rect x="358.51" y="192.75" width="5.2" height="5.2" fill="none" stroke="#339a11" stroke-width="1.1"/></g>
<g clip-path="url(#cr)"><rect x="358.51" y="400.2" width="5.2" height="5.2" fill="#fff" stroke="#339a11" stroke-width="1.1"/></g>
<polyline clip-path="url(#cm)" points="59.73,96.89 75.38,117.42 91.04,137.52 106.7,152.35 122.35,163.32 134.09,169.02 141.92,174.28 149.75,175.82 157.58,177.61 165.41,179.18 173.23,180.9 181.06,182.91 188.89,185.57 196.72,185.11 204.55,190.32 212.37,188.62 220.2,189.91 228.03,190.05 235.86,190.86 243.69,193.25 251.51,190.78 259.34,192.45 267.17,192.58 275,193.61 282.83,194.28 290.65,192.48 298.48,190.75 306.31,192.75 314.14,192.66 321.97,192.41 329.79,192.23 337.62,194.21 345.45,195.15 353.28,193.47 361.11,192.72" fill="none" stroke="#a30a28" stroke-width="1.3"/>
<polyline clip-path="url(#cr)" points="59.73,405.2 75.38,377.7 91.04,369.5 106.7,361.4 122.35,353.8 134.09,352.3 141.92,359.8 149.75,359.4 157.58,360.5 165.41,357 173.23,354.3 181.06,356.4 188.89,364.8 196.72,356.4 204.55,367.6 212.37,359.4 220.2,359 228.03,358.4 235.86,360.5 243.69,365.1 251.51,357 259.34,364 267.17,363 275,371.7 282.83,376.8 290.65,368.6 298.48,365.5 306.31,373.7 314.14,378.2 321.97,381 329.79,382.2 337.62,389.6 345.45,397.6 353.28,393 361.11,393" fill="none" stroke="#a30a28" stroke-width="1.3"/>
<g clip-path="url(#cm)"><polygon points="59.73,93.59 62.93,99.39 56.53,99.39" fill="none" stroke="#a30a28" stroke-width="1.1"/></g>
<g clip-path="url(#cr)"><polygon points="59.73,401.9 62.93,407.7 56.53,407.7" fill="#fff" stroke="#a30a28" stroke-width="1.1"/></g>
<g clip-path="url(#cm)"><polygon points="75.38,114.12 78.58,119.92 72.18,119.92" fill="none" stroke="#a30a28" stroke-width="1.1"/></g>
<g clip-path="url(#cr)"><polygon points="75.38,374.4 78.58,380.2 72.18,380.2" fill="#fff" stroke="#a30a28" stroke-width="1.1"/></g>
<g clip-path="url(#cm)"><polygon points="91.04,134.22 94.24,140.02 87.84,140.02" fill="none" stroke="#a30a28" stroke-width="1.1"/></g>
<g clip-path="url(#cr)"><polygon points="91.04,366.2 94.24,372 87.84,372" fill="#fff" stroke="#a30a28" stroke-width="1.1"/></g>
<g clip-path="url(#cm)"><polygon points="106.7,149.05 109.9,154.85 103.5,154.85" fill="none" stroke="#a30a28" stroke-width="1.1"/></g>
<g clip-path="url(#cr)"><polygon points="106.7,358.1 109.9,363.9 103.5,363.9" fill="#fff" stroke="#a30a28" stroke-width="1.1"/></g>
<g clip-path="url(#cm)"><polygon points="122.35,160.02 125.55,165.82 119.15,165.82" fill="none" stroke="#a30a28" stroke-width="1.1"/></g>
<g clip-path="url(#cr)"><polygon points="122.35,350.5 125.55,356.3 119.15,356.3" fill="#fff" stroke="#a30a28" stroke-width="1.1"/></g>
<g clip-path="url(#cr)" stroke="#a30a28" stroke-width="1"><path d="M134.09,347.9V349.5M134.09,355.1V356.7"/><line x1="132.59" y1="347.9" x2="135.59" y2="347.9"/><line x1="132.59" y1="356.7" x2="135.59" y2="356.7"/></g>
<g clip-path="url(#cm)"><polygon points="134.09,165.72 137.29,171.52 130.89,171.52" fill="none" stroke="#a30a28" stroke-width="1.1"/></g>
<g clip-path="url(#cr)"><polygon points="134.09,349 137.29,354.8 130.89,354.8" fill="#fff" stroke="#a30a28" stroke-width="1.1"/></g>
<g clip-path="url(#cr)" stroke="#a30a28" stroke-width="1"><path d="M141.92,355.37V357M141.92,362.6V364.23"/><line x1="140.42" y1="355.37" x2="143.42" y2="355.37"/><line x1="140.42" y1="364.23" x2="143.42" y2="364.23"/></g>
<g clip-path="url(#cm)"><polygon points="141.92,170.98 145.12,176.78 138.72,176.78" fill="none" stroke="#a30a28" stroke-width="1.1"/></g>
<g clip-path="url(#cr)"><polygon points="141.92,356.5 145.12,362.3 138.72,362.3" fill="#fff" stroke="#a30a28" stroke-width="1.1"/></g>
<g clip-path="url(#cr)" stroke="#a30a28" stroke-width="1"><path d="M149.75,354.94V356.6M149.75,362.2V363.86"/><line x1="148.25" y1="354.94" x2="151.25" y2="354.94"/><line x1="148.25" y1="363.86" x2="151.25" y2="363.86"/></g>
<g clip-path="url(#cm)"><polygon points="149.75,172.52 152.95,178.32 146.55,178.32" fill="none" stroke="#a30a28" stroke-width="1.1"/></g>
<g clip-path="url(#cr)"><polygon points="149.75,356.1 152.95,361.9 146.55,361.9" fill="#fff" stroke="#a30a28" stroke-width="1.1"/></g>
<g clip-path="url(#cr)" stroke="#a30a28" stroke-width="1"><path d="M157.58,356.01V357.7M157.58,363.3V364.99"/><line x1="156.08" y1="356.01" x2="159.08" y2="356.01"/><line x1="156.08" y1="364.99" x2="159.08" y2="364.99"/></g>
<g clip-path="url(#cm)"><polygon points="157.58,174.31 160.78,180.11 154.38,180.11" fill="none" stroke="#a30a28" stroke-width="1.1"/></g>
<g clip-path="url(#cr)"><polygon points="157.58,357.2 160.78,363 154.38,363" fill="#fff" stroke="#a30a28" stroke-width="1.1"/></g>
<g clip-path="url(#cr)" stroke="#a30a28" stroke-width="1"><path d="M165.41,352.48V354.2M165.41,359.8V361.52"/><line x1="163.91" y1="352.48" x2="166.91" y2="352.48"/><line x1="163.91" y1="361.52" x2="166.91" y2="361.52"/></g>
<g clip-path="url(#cm)"><polygon points="165.41,175.88 168.61,181.68 162.21,181.68" fill="none" stroke="#a30a28" stroke-width="1.1"/></g>
<g clip-path="url(#cr)"><polygon points="165.41,353.7 168.61,359.5 162.21,359.5" fill="#fff" stroke="#a30a28" stroke-width="1.1"/></g>
<g clip-path="url(#cr)" stroke="#a30a28" stroke-width="1"><path d="M173.23,349.75V351.5M173.23,357.1V358.85"/><line x1="171.73" y1="349.75" x2="174.73" y2="349.75"/><line x1="171.73" y1="358.85" x2="174.73" y2="358.85"/></g>
<g clip-path="url(#cm)"><polygon points="173.23,177.6 176.43,183.4 170.03,183.4" fill="none" stroke="#a30a28" stroke-width="1.1"/></g>
<g clip-path="url(#cr)"><polygon points="173.23,351 176.43,356.8 170.03,356.8" fill="#fff" stroke="#a30a28" stroke-width="1.1"/></g>
<g clip-path="url(#cr)" stroke="#a30a28" stroke-width="1"><path d="M181.06,351.82V353.6M181.06,359.2V360.98"/><line x1="179.56" y1="351.82" x2="182.56" y2="351.82"/><line x1="179.56" y1="360.98" x2="182.56" y2="360.98"/></g>
<g clip-path="url(#cm)"><polygon points="181.06,179.61 184.26,185.41 177.86,185.41" fill="none" stroke="#a30a28" stroke-width="1.1"/></g>
<g clip-path="url(#cr)"><polygon points="181.06,353.1 184.26,358.9 177.86,358.9" fill="#fff" stroke="#a30a28" stroke-width="1.1"/></g>
<g clip-path="url(#cr)" stroke="#a30a28" stroke-width="1"><path d="M188.89,360.19V362M188.89,367.6V369.41"/><line x1="187.39" y1="360.19" x2="190.39" y2="360.19"/><line x1="187.39" y1="369.41" x2="190.39" y2="369.41"/></g>
<g clip-path="url(#cm)"><polygon points="188.89,182.27 192.09,188.07 185.69,188.07" fill="none" stroke="#a30a28" stroke-width="1.1"/></g>
<g clip-path="url(#cr)"><polygon points="188.89,361.5 192.09,367.3 185.69,367.3" fill="#fff" stroke="#a30a28" stroke-width="1.1"/></g>
<g clip-path="url(#cr)" stroke="#a30a28" stroke-width="1"><path d="M196.72,351.76V353.6M196.72,359.2V361.04"/><line x1="195.22" y1="351.76" x2="198.22" y2="351.76"/><line x1="195.22" y1="361.04" x2="198.22" y2="361.04"/></g>
<g clip-path="url(#cm)"><polygon points="196.72,181.81 199.92,187.61 193.52,187.61" fill="none" stroke="#a30a28" stroke-width="1.1"/></g>
<g clip-path="url(#cr)"><polygon points="196.72,353.1 199.92,358.9 193.52,358.9" fill="#fff" stroke="#a30a28" stroke-width="1.1"/></g>
<g clip-path="url(#cr)" stroke="#a30a28" stroke-width="1"><path d="M204.55,362.93V364.8M204.55,370.4V372.27"/><line x1="203.05" y1="362.93" x2="206.05" y2="362.93"/><line x1="203.05" y1="372.27" x2="206.05" y2="372.27"/></g>
<g clip-path="url(#cm)"><polygon points="204.55,187.02 207.75,192.82 201.35,192.82" fill="none" stroke="#a30a28" stroke-width="1.1"/></g>
<g clip-path="url(#cr)"><polygon points="204.55,364.3 207.75,370.1 201.35,370.1" fill="#fff" stroke="#a30a28" stroke-width="1.1"/></g>
<g clip-path="url(#cr)" stroke="#a30a28" stroke-width="1"><path d="M212.37,354.7V356.6M212.37,362.2V364.1"/><line x1="210.87" y1="354.7" x2="213.87" y2="354.7"/><line x1="210.87" y1="364.1" x2="213.87" y2="364.1"/></g>
<g clip-path="url(#cm)"><polygon points="212.37,185.32 215.57,191.12 209.17,191.12" fill="none" stroke="#a30a28" stroke-width="1.1"/></g>
<g clip-path="url(#cr)"><polygon points="212.37,356.1 215.57,361.9 209.17,361.9" fill="#fff" stroke="#a30a28" stroke-width="1.1"/></g>
<g clip-path="url(#cr)" stroke="#a30a28" stroke-width="1"><path d="M220.2,354.27V356.2M220.2,361.8V363.73"/><line x1="218.7" y1="354.27" x2="221.7" y2="354.27"/><line x1="218.7" y1="363.73" x2="221.7" y2="363.73"/></g>
<g clip-path="url(#cm)"><polygon points="220.2,186.61 223.4,192.41 217,192.41" fill="none" stroke="#a30a28" stroke-width="1.1"/></g>
<g clip-path="url(#cr)"><polygon points="220.2,355.7 223.4,361.5 217,361.5" fill="#fff" stroke="#a30a28" stroke-width="1.1"/></g>
<g clip-path="url(#cr)" stroke="#a30a28" stroke-width="1"><path d="M228.03,353.64V355.6M228.03,361.2V363.16"/><line x1="226.53" y1="353.64" x2="229.53" y2="353.64"/><line x1="226.53" y1="363.16" x2="229.53" y2="363.16"/></g>
<g clip-path="url(#cm)"><polygon points="228.03,186.75 231.23,192.55 224.83,192.55" fill="none" stroke="#a30a28" stroke-width="1.1"/></g>
<g clip-path="url(#cr)"><polygon points="228.03,355.1 231.23,360.9 224.83,360.9" fill="#fff" stroke="#a30a28" stroke-width="1.1"/></g>
<g clip-path="url(#cr)" stroke="#a30a28" stroke-width="1"><path d="M235.86,355.71V357.7M235.86,363.3V365.29"/><line x1="234.36" y1="355.71" x2="237.36" y2="355.71"/><line x1="234.36" y1="365.29" x2="237.36" y2="365.29"/></g>
<g clip-path="url(#cm)"><polygon points="235.86,187.56 239.06,193.36 232.66,193.36" fill="none" stroke="#a30a28" stroke-width="1.1"/></g>
<g clip-path="url(#cr)"><polygon points="235.86,357.2 239.06,363 232.66,363" fill="#fff" stroke="#a30a28" stroke-width="1.1"/></g>
<g clip-path="url(#cr)" stroke="#a30a28" stroke-width="1"><path d="M243.69,360.28V362.3M243.69,367.9V369.92"/><line x1="242.19" y1="360.28" x2="245.19" y2="360.28"/><line x1="242.19" y1="369.92" x2="245.19" y2="369.92"/></g>
<g clip-path="url(#cm)"><polygon points="243.69,189.95 246.89,195.75 240.49,195.75" fill="none" stroke="#a30a28" stroke-width="1.1"/></g>
<g clip-path="url(#cr)"><polygon points="243.69,361.8 246.89,367.6 240.49,367.6" fill="#fff" stroke="#a30a28" stroke-width="1.1"/></g>
<g clip-path="url(#cr)" stroke="#a30a28" stroke-width="1"><path d="M251.51,352.15V354.2M251.51,359.8V361.85"/><line x1="250.01" y1="352.15" x2="253.01" y2="352.15"/><line x1="250.01" y1="361.85" x2="253.01" y2="361.85"/></g>
<g clip-path="url(#cm)"><polygon points="251.51,187.48 254.71,193.28 248.31,193.28" fill="none" stroke="#a30a28" stroke-width="1.1"/></g>
<g clip-path="url(#cr)"><polygon points="251.51,353.7 254.71,359.5 248.31,359.5" fill="#fff" stroke="#a30a28" stroke-width="1.1"/></g>
<g clip-path="url(#cr)" stroke="#a30a28" stroke-width="1"><path d="M259.34,359.12V361.2M259.34,366.8V368.88"/><line x1="257.84" y1="359.12" x2="260.84" y2="359.12"/><line x1="257.84" y1="368.88" x2="260.84" y2="368.88"/></g>
<g clip-path="url(#cm)"><polygon points="259.34,189.15 262.54,194.95 256.14,194.95" fill="none" stroke="#a30a28" stroke-width="1.1"/></g>
<g clip-path="url(#cr)"><polygon points="259.34,360.7 262.54,366.5 256.14,366.5" fill="#fff" stroke="#a30a28" stroke-width="1.1"/></g>
<g clip-path="url(#cr)" stroke="#a30a28" stroke-width="1"><path d="M267.17,358.09V360.2M267.17,365.8V367.91"/><line x1="265.67" y1="358.09" x2="268.67" y2="358.09"/><line x1="265.67" y1="367.91" x2="268.67" y2="367.91"/></g>
<g clip-path="url(#cm)"><polygon points="267.17,189.28 270.37,195.08 263.97,195.08" fill="none" stroke="#a30a28" stroke-width="1.1"/></g>
<g clip-path="url(#cr)"><polygon points="267.17,359.7 270.37,365.5 263.97,365.5" fill="#fff" stroke="#a30a28" stroke-width="1.1"/></g>
<g clip-path="url(#cr)" stroke="#a30a28" stroke-width="1"><path d="M275,366.76V368.9M275,374.5V376.64"/><line x1="273.5" y1="366.76" x2="276.5" y2="366.76"/><line x1="273.5" y1="376.64" x2="276.5" y2="376.64"/></g>
<g clip-path="url(#cm)"><polygon points="275,190.31 278.2,196.11 271.8,196.11" fill="none" stroke="#a30a28" stroke-width="1.1"/></g>
<g clip-path="url(#cr)"><polygon points="275,368.4 278.2,374.2 271.8,374.2" fill="#fff" stroke="#a30a28" stroke-width="1.1"/></g>
<g clip-path="url(#cr)" stroke="#a30a28" stroke-width="1"><path d="M282.83,371.83V374M282.83,379.6V381.77"/><line x1="281.33" y1="371.83" x2="284.33" y2="371.83"/><line x1="281.33" y1="381.77" x2="284.33" y2="381.77"/></g>
<g clip-path="url(#cm)"><polygon points="282.83,190.98 286.03,196.78 279.63,196.78" fill="none" stroke="#a30a28" stroke-width="1.1"/></g>
<g clip-path="url(#cr)"><polygon points="282.83,373.5 286.03,379.3 279.63,379.3" fill="#fff" stroke="#a30a28" stroke-width="1.1"/></g>
<g clip-path="url(#cr)" stroke="#a30a28" stroke-width="1"><path d="M290.65,363.6V365.8M290.65,371.4V373.6"/><line x1="289.15" y1="363.6" x2="292.15" y2="363.6"/><line x1="289.15" y1="373.6" x2="292.15" y2="373.6"/></g>
<g clip-path="url(#cm)"><polygon points="290.65,189.18 293.85,194.98 287.45,194.98" fill="none" stroke="#a30a28" stroke-width="1.1"/></g>
<g clip-path="url(#cr)"><polygon points="290.65,365.3 293.85,371.1 287.45,371.1" fill="#fff" stroke="#a30a28" stroke-width="1.1"/></g>
<g clip-path="url(#cr)" stroke="#a30a28" stroke-width="1"><path d="M298.48,360.47V362.7M298.48,368.3V370.53"/><line x1="296.98" y1="360.47" x2="299.98" y2="360.47"/><line x1="296.98" y1="370.53" x2="299.98" y2="370.53"/></g>
<g clip-path="url(#cm)"><polygon points="298.48,187.45 301.68,193.25 295.28,193.25" fill="none" stroke="#a30a28" stroke-width="1.1"/></g>
<g clip-path="url(#cr)"><polygon points="298.48,362.2 301.68,368 295.28,368" fill="#fff" stroke="#a30a28" stroke-width="1.1"/></g>
<g clip-path="url(#cr)" stroke="#a30a28" stroke-width="1"><path d="M306.31,368.64V370.9M306.31,376.5V378.76"/><line x1="304.81" y1="368.64" x2="307.81" y2="368.64"/><line x1="304.81" y1="378.76" x2="307.81" y2="378.76"/></g>
<g clip-path="url(#cm)"><polygon points="306.31,189.45 309.51,195.25 303.11,195.25" fill="none" stroke="#a30a28" stroke-width="1.1"/></g>
<g clip-path="url(#cr)"><polygon points="306.31,370.4 309.51,376.2 303.11,376.2" fill="#fff" stroke="#a30a28" stroke-width="1.1"/></g>
<g clip-path="url(#cr)" stroke="#a30a28" stroke-width="1"><path d="M314.14,373.11V375.4M314.14,381V383.29"/><line x1="312.64" y1="373.11" x2="315.64" y2="373.11"/><line x1="312.64" y1="383.29" x2="315.64" y2="383.29"/></g>
<g clip-path="url(#cm)"><polygon points="314.14,189.36 317.34,195.16 310.94,195.16" fill="none" stroke="#a30a28" stroke-width="1.1"/></g>
<g clip-path="url(#cr)"><polygon points="314.14,374.9 317.34,380.7 310.94,380.7" fill="#fff" stroke="#a30a28" stroke-width="1.1"/></g>
<g clip-path="url(#cr)" stroke="#a30a28" stroke-width="1"><path d="M321.97,375.88V378.2M321.97,383.8V386.12"/><line x1="320.47" y1="375.88" x2="323.47" y2="375.88"/><line x1="320.47" y1="386.12" x2="323.47" y2="386.12"/></g>
<g clip-path="url(#cm)"><polygon points="321.97,189.11 325.17,194.91 318.77,194.91" fill="none" stroke="#a30a28" stroke-width="1.1"/></g>
<g clip-path="url(#cr)"><polygon points="321.97,377.7 325.17,383.5 318.77,383.5" fill="#fff" stroke="#a30a28" stroke-width="1.1"/></g>
<g clip-path="url(#cr)" stroke="#a30a28" stroke-width="1"><path d="M329.79,377.05V379.4M329.79,385V387.35"/><line x1="328.29" y1="377.05" x2="331.29" y2="377.05"/><line x1="328.29" y1="387.35" x2="331.29" y2="387.35"/></g>
<g clip-path="url(#cm)"><polygon points="329.79,188.93 332.99,194.73 326.59,194.73" fill="none" stroke="#a30a28" stroke-width="1.1"/></g>
<g clip-path="url(#cr)"><polygon points="329.79,378.9 332.99,384.7 326.59,384.7" fill="#fff" stroke="#a30a28" stroke-width="1.1"/></g>
<g clip-path="url(#cr)" stroke="#a30a28" stroke-width="1"><path d="M337.62,384.42V386.8M337.62,392.4V394.78"/><line x1="336.12" y1="384.42" x2="339.12" y2="384.42"/><line x1="336.12" y1="394.78" x2="339.12" y2="394.78"/></g>
<g clip-path="url(#cm)"><polygon points="337.62,190.91 340.82,196.71 334.42,196.71" fill="none" stroke="#a30a28" stroke-width="1.1"/></g>
<g clip-path="url(#cr)"><polygon points="337.62,386.3 340.82,392.1 334.42,392.1" fill="#fff" stroke="#a30a28" stroke-width="1.1"/></g>
<g clip-path="url(#cr)" stroke="#a30a28" stroke-width="1"><path d="M345.45,392.39V394.8M345.45,400.4V402.81"/><line x1="343.95" y1="392.39" x2="346.95" y2="392.39"/><line x1="343.95" y1="402.81" x2="346.95" y2="402.81"/></g>
<g clip-path="url(#cm)"><polygon points="345.45,191.85 348.65,197.65 342.25,197.65" fill="none" stroke="#a30a28" stroke-width="1.1"/></g>
<g clip-path="url(#cr)"><polygon points="345.45,394.3 348.65,400.1 342.25,400.1" fill="#fff" stroke="#a30a28" stroke-width="1.1"/></g>
<g clip-path="url(#cr)" stroke="#a30a28" stroke-width="1"><path d="M353.28,387.76V390.2M353.28,395.8V398.24"/><line x1="351.78" y1="387.76" x2="354.78" y2="387.76"/><line x1="351.78" y1="398.24" x2="354.78" y2="398.24"/></g>
<g clip-path="url(#cm)"><polygon points="353.28,190.17 356.48,195.97 350.08,195.97" fill="none" stroke="#a30a28" stroke-width="1.1"/></g>
<g clip-path="url(#cr)"><polygon points="353.28,389.7 356.48,395.5 350.08,395.5" fill="#fff" stroke="#a30a28" stroke-width="1.1"/></g>
<g clip-path="url(#cr)" stroke="#a30a28" stroke-width="1"><path d="M361.11,387.73V390.2M361.11,395.8V398.27"/><line x1="359.61" y1="387.73" x2="362.61" y2="387.73"/><line x1="359.61" y1="398.27" x2="362.61" y2="398.27"/></g>
<g clip-path="url(#cm)"><polygon points="361.11,189.42 364.31,195.22 357.91,195.22" fill="none" stroke="#a30a28" stroke-width="1.1"/></g>
<g clip-path="url(#cr)"><polygon points="361.11,389.7 364.31,395.5 357.91,395.5" fill="#fff" stroke="#a30a28" stroke-width="1.1"/></g>
<polyline clip-path="url(#cm)" points="59.73,92.52 75.38,119.75 91.04,143.53 106.7,161.62 122.35,174.76 134.09,179.92 141.92,182.1 149.75,182.65 157.58,185.95 165.41,187.19 173.23,188.4 181.06,188.76 188.89,190.68 196.72,190.29 204.55,191.84 212.37,191.81 220.2,192.64 228.03,192.62 235.86,193.3 243.69,196.38 251.51,192.78 259.34,193.74 267.17,194.73 275,195.52 282.83,192.81 290.65,195.48 298.48,194.32 306.31,195.97 314.14,195.63 321.97,193.21 329.79,196.68 337.62,196.68 345.45,195.15 353.28,196.1 361.11,195.48" fill="none" stroke="#1414f0" stroke-width="1.3"/>
<polyline clip-path="url(#cr)" points="59.73,388.9 75.38,386.4 91.04,391.9 106.7,396 122.35,396.5 134.09,393 141.92,389 149.75,384.9 157.58,391.6 165.41,386.9 173.23,382.3 181.06,378.2 188.89,383.9 196.72,375.7 204.55,373.3 212.37,371.3 220.2,369.2 228.03,368 235.86,369.6 243.69,376.8 251.51,364.5 259.34,368.8 267.17,371 275,378.8 282.83,371.3 290.65,379.8 298.48,378.8 306.31,385.7 314.14,389.3 321.97,384 329.79,398.8 337.62,398.8 345.45,397.6 353.28,402.8 361.11,403.3" fill="none" stroke="#1414f0" stroke-width="1.3"/>
<g clip-path="url(#cm)"><polygon points="59.73,89.02 62.73,95.02 56.73,95.02" fill="#1414f0"/></g>
<g clip-path="url(#cr)"><polygon points="59.73,385.4 62.73,391.4 56.73,391.4" fill="#1414f0"/></g>
<g clip-path="url(#cm)"><polygon points="75.38,116.25 78.38,122.25 72.38,122.25" fill="#1414f0"/></g>
<g clip-path="url(#cr)"><polygon points="75.38,382.9 78.38,388.9 72.38,388.9" fill="#1414f0"/></g>
<g clip-path="url(#cm)"><polygon points="91.04,140.03 94.04,146.03 88.04,146.03" fill="#1414f0"/></g>
<g clip-path="url(#cr)"><polygon points="91.04,388.4 94.04,394.4 88.04,394.4" fill="#1414f0"/></g>
<g clip-path="url(#cm)"><polygon points="106.7,158.12 109.7,164.12 103.7,164.12" fill="#1414f0"/></g>
<g clip-path="url(#cr)"><polygon points="106.7,392.5 109.7,398.5 103.7,398.5" fill="#1414f0"/></g>
<g clip-path="url(#cm)"><polygon points="122.35,171.26 125.35,177.26 119.35,177.26" fill="#1414f0"/></g>
<g clip-path="url(#cr)"><polygon points="122.35,393 125.35,399 119.35,399" fill="#1414f0"/></g>
<g clip-path="url(#cr)" stroke="#1414f0" stroke-width="1"><path d="M134.09,388.6V390.2M134.09,395.8V397.4"/><line x1="132.59" y1="388.6" x2="135.59" y2="388.6"/><line x1="132.59" y1="397.4" x2="135.59" y2="397.4"/></g>
<g clip-path="url(#cm)"><polygon points="134.09,176.42 137.09,182.42 131.09,182.42" fill="#1414f0"/></g>
<g clip-path="url(#cr)"><polygon points="134.09,389.5 137.09,395.5 131.09,395.5" fill="#1414f0"/></g>
<g clip-path="url(#cr)" stroke="#1414f0" stroke-width="1"><path d="M141.92,384.57V386.2M141.92,391.8V393.43"/><line x1="140.42" y1="384.57" x2="143.42" y2="384.57"/><line x1="140.42" y1="393.43" x2="143.42" y2="393.43"/></g>
<g clip-path="url(#cm)"><polygon points="141.92,178.6 144.92,184.6 138.92,184.6" fill="#1414f0"/></g>
<g clip-path="url(#cr)"><polygon points="141.92,385.5 144.92,391.5 138.92,391.5" fill="#1414f0"/></g>
<g clip-path="url(#cr)" stroke="#1414f0" stroke-width="1"><path d="M149.75,380.44V382.1M149.75,387.7V389.36"/><line x1="148.25" y1="380.44" x2="151.25" y2="380.44"/><line x1="148.25" y1="389.36" x2="151.25" y2="389.36"/></g>
<g clip-path="url(#cm)"><polygon points="149.75,179.15 152.75,185.15 146.75,185.15" fill="#1414f0"/></g>
<g clip-path="url(#cr)"><polygon points="149.75,381.4 152.75,387.4 146.75,387.4" fill="#1414f0"/></g>
<g clip-path="url(#cr)" stroke="#1414f0" stroke-width="1"><path d="M157.58,387.11V388.8M157.58,394.4V396.09"/><line x1="156.08" y1="387.11" x2="159.08" y2="387.11"/><line x1="156.08" y1="396.09" x2="159.08" y2="396.09"/></g>
<g clip-path="url(#cm)"><polygon points="157.58,182.45 160.58,188.45 154.58,188.45" fill="#1414f0"/></g>
<g clip-path="url(#cr)"><polygon points="157.58,388.1 160.58,394.1 154.58,394.1" fill="#1414f0"/></g>
<g clip-path="url(#cr)" stroke="#1414f0" stroke-width="1"><path d="M165.41,382.38V384.1M165.41,389.7V391.42"/><line x1="163.91" y1="382.38" x2="166.91" y2="382.38"/><line x1="163.91" y1="391.42" x2="166.91" y2="391.42"/></g>
<g clip-path="url(#cm)"><polygon points="165.41,183.69 168.41,189.69 162.41,189.69" fill="#1414f0"/></g>
<g clip-path="url(#cr)"><polygon points="165.41,383.4 168.41,389.4 162.41,389.4" fill="#1414f0"/></g>
<g clip-path="url(#cr)" stroke="#1414f0" stroke-width="1"><path d="M173.23,377.75V379.5M173.23,385.1V386.85"/><line x1="171.73" y1="377.75" x2="174.73" y2="377.75"/><line x1="171.73" y1="386.85" x2="174.73" y2="386.85"/></g>
<g clip-path="url(#cm)"><polygon points="173.23,184.9 176.23,190.9 170.23,190.9" fill="#1414f0"/></g>
<g clip-path="url(#cr)"><polygon points="173.23,378.8 176.23,384.8 170.23,384.8" fill="#1414f0"/></g>
<g clip-path="url(#cr)" stroke="#1414f0" stroke-width="1"><path d="M181.06,373.62V375.4M181.06,381V382.78"/><line x1="179.56" y1="373.62" x2="182.56" y2="373.62"/><line x1="179.56" y1="382.78" x2="182.56" y2="382.78"/></g>
<g clip-path="url(#cm)"><polygon points="181.06,185.26 184.06,191.26 178.06,191.26" fill="#1414f0"/></g>
<g clip-path="url(#cr)"><polygon points="181.06,374.7 184.06,380.7 178.06,380.7" fill="#1414f0"/></g>
<g clip-path="url(#cr)" stroke="#1414f0" stroke-width="1"><path d="M188.89,379.29V381.1M188.89,386.7V388.51"/><line x1="187.39" y1="379.29" x2="190.39" y2="379.29"/><line x1="187.39" y1="388.51" x2="190.39" y2="388.51"/></g>
<g clip-path="url(#cm)"><polygon points="188.89,187.18 191.89,193.18 185.89,193.18" fill="#1414f0"/></g>
<g clip-path="url(#cr)"><polygon points="188.89,380.4 191.89,386.4 185.89,386.4" fill="#1414f0"/></g>
<g clip-path="url(#cr)" stroke="#1414f0" stroke-width="1"><path d="M196.72,371.06V372.9M196.72,378.5V380.34"/><line x1="195.22" y1="371.06" x2="198.22" y2="371.06"/><line x1="195.22" y1="380.34" x2="198.22" y2="380.34"/></g>
<g clip-path="url(#cm)"><polygon points="196.72,186.79 199.72,192.79 193.72,192.79" fill="#1414f0"/></g>
<g clip-path="url(#cr)"><polygon points="196.72,372.2 199.72,378.2 193.72,378.2" fill="#1414f0"/></g>
<g clip-path="url(#cr)" stroke="#1414f0" stroke-width="1"><path d="M204.55,368.63V370.5M204.55,376.1V377.97"/><line x1="203.05" y1="368.63" x2="206.05" y2="368.63"/><line x1="203.05" y1="377.97" x2="206.05" y2="377.97"/></g>
<g clip-path="url(#cm)"><polygon points="204.55,188.34 207.55,194.34 201.55,194.34" fill="#1414f0"/></g>
<g clip-path="url(#cr)"><polygon points="204.55,369.8 207.55,375.8 201.55,375.8" fill="#1414f0"/></g>
<g clip-path="url(#cr)" stroke="#1414f0" stroke-width="1"><path d="M212.37,366.6V368.5M212.37,374.1V376"/><line x1="210.87" y1="366.6" x2="213.87" y2="366.6"/><line x1="210.87" y1="376" x2="213.87" y2="376"/></g>
<g clip-path="url(#cm)"><polygon points="212.37,188.31 215.37,194.31 209.37,194.31" fill="#1414f0"/></g>
<g clip-path="url(#cr)"><polygon points="212.37,367.8 215.37,373.8 209.37,373.8" fill="#1414f0"/></g>
<g clip-path="url(#cr)" stroke="#1414f0" stroke-width="1"><path d="M220.2,364.47V366.4M220.2,372V373.93"/><line x1="218.7" y1="364.47" x2="221.7" y2="364.47"/><line x1="218.7" y1="373.93" x2="221.7" y2="373.93"/></g>
<g clip-path="url(#cm)"><polygon points="220.2,189.14 223.2,195.14 217.2,195.14" fill="#1414f0"/></g>
<g clip-path="url(#cr)"><polygon points="220.2,365.7 223.2,371.7 217.2,371.7" fill="#1414f0"/></g>
<g clip-path="url(#cr)" stroke="#1414f0" stroke-width="1"><path d="M228.03,363.24V365.2M228.03,370.8V372.76"/><line x1="226.53" y1="363.24" x2="229.53" y2="363.24"/><line x1="226.53" y1="372.76" x2="229.53" y2="372.76"/></g>
<g clip-path="url(#cm)"><polygon points="228.03,189.12 231.03,195.12 225.03,195.12" fill="#1414f0"/></g>
<g clip-path="url(#cr)"><polygon points="228.03,364.5 231.03,370.5 225.03,370.5" fill="#1414f0"/></g>
<g clip-path="url(#cr)" stroke="#1414f0" stroke-width="1"><path d="M235.86,364.81V366.8M235.86,372.4V374.39"/><line x1="234.36" y1="364.81" x2="237.36" y2="364.81"/><line x1="234.36" y1="374.39" x2="237.36" y2="374.39"/></g>
<g clip-path="url(#cm)"><polygon points="235.86,189.8 238.86,195.8 232.86,195.8" fill="#1414f0"/></g>
<g clip-path="url(#cr)"><polygon points="235.86,366.1 238.86,372.1 232.86,372.1" fill="#1414f0"/></g>
<g clip-path="url(#cr)" stroke="#1414f0" stroke-width="1"><path d="M243.69,371.98V374M243.69,379.6V381.62"/><line x1="242.19" y1="371.98" x2="245.19" y2="371.98"/><line x1="242.19" y1="381.62" x2="245.19" y2="381.62"/></g>
<g clip-path="url(#cm)"><polygon points="243.69,192.88 246.69,198.88 240.69,198.88" fill="#1414f0"/></g>
<g clip-path="url(#cr)"><polygon points="243.69,373.3 246.69,379.3 240.69,379.3" fill="#1414f0"/></g>
<g clip-path="url(#cr)" stroke="#1414f0" stroke-width="1"><path d="M251.51,359.65V361.7M251.51,367.3V369.35"/><line x1="250.01" y1="359.65" x2="253.01" y2="359.65"/><line x1="250.01" y1="369.35" x2="253.01" y2="369.35"/></g>
<g clip-path="url(#cm)"><polygon points="251.51,189.28 254.51,195.28 248.51,195.28" fill="#1414f0"/></g>
<g clip-path="url(#cr)"><polygon points="251.51,361 254.51,367 248.51,367" fill="#1414f0"/></g>
<g clip-path="url(#cr)" stroke="#1414f0" stroke-width="1"><path d="M259.34,363.92V366M259.34,371.6V373.68"/><line x1="257.84" y1="363.92" x2="260.84" y2="363.92"/><line x1="257.84" y1="373.68" x2="260.84" y2="373.68"/></g>
<g clip-path="url(#cm)"><polygon points="259.34,190.24 262.34,196.24 256.34,196.24" fill="#1414f0"/></g>
<g clip-path="url(#cr)"><polygon points="259.34,365.3 262.34,371.3 256.34,371.3" fill="#1414f0"/></g>
<g clip-path="url(#cr)" stroke="#1414f0" stroke-width="1"><path d="M267.17,366.09V368.2M267.17,373.8V375.91"/><line x1="265.67" y1="366.09" x2="268.67" y2="366.09"/><line x1="265.67" y1="375.91" x2="268.67" y2="375.91"/></g>
<g clip-path="url(#cm)"><polygon points="267.17,191.23 270.17,197.23 264.17,197.23" fill="#1414f0"/></g>
<g clip-path="url(#cr)"><polygon points="267.17,367.5 270.17,373.5 264.17,373.5" fill="#1414f0"/></g>
<g clip-path="url(#cr)" stroke="#1414f0" stroke-width="1"><path d="M275,373.86V376M275,381.6V383.74"/><line x1="273.5" y1="373.86" x2="276.5" y2="373.86"/><line x1="273.5" y1="383.74" x2="276.5" y2="383.74"/></g>
<g clip-path="url(#cm)"><polygon points="275,192.02 278,198.02 272,198.02" fill="#1414f0"/></g>
<g clip-path="url(#cr)"><polygon points="275,375.3 278,381.3 272,381.3" fill="#1414f0"/></g>
<g clip-path="url(#cr)" stroke="#1414f0" stroke-width="1"><path d="M282.83,366.33V368.5M282.83,374.1V376.27"/><line x1="281.33" y1="366.33" x2="284.33" y2="366.33"/><line x1="281.33" y1="376.27" x2="284.33" y2="376.27"/></g>
<g clip-path="url(#cm)"><polygon points="282.83,189.31 285.83,195.31 279.83,195.31" fill="#1414f0"/></g>
<g clip-path="url(#cr)"><polygon points="282.83,367.8 285.83,373.8 279.83,373.8" fill="#1414f0"/></g>
<g clip-path="url(#cr)" stroke="#1414f0" stroke-width="1"><path d="M290.65,374.8V377M290.65,382.6V384.8"/><line x1="289.15" y1="374.8" x2="292.15" y2="374.8"/><line x1="289.15" y1="384.8" x2="292.15" y2="384.8"/></g>
<g clip-path="url(#cm)"><polygon points="290.65,191.98 293.65,197.98 287.65,197.98" fill="#1414f0"/></g>
<g clip-path="url(#cr)"><polygon points="290.65,376.3 293.65,382.3 287.65,382.3" fill="#1414f0"/></g>
<g clip-path="url(#cr)" stroke="#1414f0" stroke-width="1"><path d="M298.48,373.77V376M298.48,381.6V383.83"/><line x1="296.98" y1="373.77" x2="299.98" y2="373.77"/><line x1="296.98" y1="383.83" x2="299.98" y2="383.83"/></g>
<g clip-path="url(#cm)"><polygon points="298.48,190.82 301.48,196.82 295.48,196.82" fill="#1414f0"/></g>
<g clip-path="url(#cr)"><polygon points="298.48,375.3 301.48,381.3 295.48,381.3" fill="#1414f0"/></g>
<g clip-path="url(#cr)" stroke="#1414f0" stroke-width="1"><path d="M306.31,380.64V382.9M306.31,388.5V390.76"/><line x1="304.81" y1="380.64" x2="307.81" y2="380.64"/><line x1="304.81" y1="390.76" x2="307.81" y2="390.76"/></g>
<g clip-path="url(#cm)"><polygon points="306.31,192.47 309.31,198.47 303.31,198.47" fill="#1414f0"/></g>
<g clip-path="url(#cr)"><polygon points="306.31,382.2 309.31,388.2 303.31,388.2" fill="#1414f0"/></g>
<g clip-path="url(#cr)" stroke="#1414f0" stroke-width="1"><path d="M314.14,384.21V386.5M314.14,392.1V394.39"/><line x1="312.64" y1="384.21" x2="315.64" y2="384.21"/><line x1="312.64" y1="394.39" x2="315.64" y2="394.39"/></g>
<g clip-path="url(#cm)"><polygon points="314.14,192.13 317.14,198.13 311.14,198.13" fill="#1414f0"/></g>
<g clip-path="url(#cr)"><polygon points="314.14,385.8 317.14,391.8 311.14,391.8" fill="#1414f0"/></g>
<g clip-path="url(#cr)" stroke="#1414f0" stroke-width="1"><path d="M321.97,378.88V381.2M321.97,386.8V389.12"/><line x1="320.47" y1="378.88" x2="323.47" y2="378.88"/><line x1="320.47" y1="389.12" x2="323.47" y2="389.12"/></g>
<g clip-path="url(#cm)"><polygon points="321.97,189.71 324.97,195.71 318.97,195.71" fill="#1414f0"/></g>
<g clip-path="url(#cr)"><polygon points="321.97,380.5 324.97,386.5 318.97,386.5" fill="#1414f0"/></g>
<g clip-path="url(#cr)" stroke="#1414f0" stroke-width="1"><path d="M329.79,393.65V396M329.79,401.6V403.95"/><line x1="328.29" y1="393.65" x2="331.29" y2="393.65"/><line x1="328.29" y1="403.95" x2="331.29" y2="403.95"/></g>
<g clip-path="url(#cm)"><polygon points="329.79,193.18 332.79,199.18 326.79,199.18" fill="#1414f0"/></g>
<g clip-path="url(#cr)"><polygon points="329.79,395.3 332.79,401.3 326.79,401.3" fill="#1414f0"/></g>
<g clip-path="url(#cr)" stroke="#1414f0" stroke-width="1"><path d="M337.62,393.62V396M337.62,401.6V403.98"/><line x1="336.12" y1="393.62" x2="339.12" y2="393.62"/><line x1="336.12" y1="403.98" x2="339.12" y2="403.98"/></g>
<g clip-path="url(#cm)"><polygon points="337.62,193.18 340.62,199.18 334.62,199.18" fill="#1414f0"/></g>
<g clip-path="url(#cr)"><polygon points="337.62,395.3 340.62,401.3 334.62,401.3" fill="#1414f0"/></g>
<g clip-path="url(#cr)" stroke="#1414f0" stroke-width="1"><path d="M345.45,392.39V394.8M345.45,400.4V402.81"/><line x1="343.95" y1="392.39" x2="346.95" y2="392.39"/><line x1="343.95" y1="402.81" x2="346.95" y2="402.81"/></g>
<g clip-path="url(#cm)"><polygon points="345.45,191.65 348.45,197.65 342.45,197.65" fill="#1414f0"/></g>
<g clip-path="url(#cr)"><polygon points="345.45,394.1 348.45,400.1 342.45,400.1" fill="#1414f0"/></g>
<g clip-path="url(#cr)" stroke="#1414f0" stroke-width="1"><path d="M353.28,397.56V400M353.28,405.6V408.04"/><line x1="351.78" y1="397.56" x2="354.78" y2="397.56"/><line x1="351.78" y1="408.04" x2="354.78" y2="408.04"/></g>
<g clip-path="url(#cm)"><polygon points="353.28,192.6 356.28,198.6 350.28,198.6" fill="#1414f0"/></g>
<g clip-path="url(#cr)"><polygon points="353.28,399.3 356.28,405.3 350.28,405.3" fill="#1414f0"/></g>
<g clip-path="url(#cr)" stroke="#1414f0" stroke-width="1"><path d="M361.11,398.03V400.5M361.11,406.1V408.57"/><line x1="359.61" y1="398.03" x2="362.61" y2="398.03"/><line x1="359.61" y1="408.57" x2="362.61" y2="408.57"/></g>
<g clip-path="url(#cm)"><polygon points="361.11,191.98 364.11,197.98 358.11,197.98" fill="#1414f0"/></g>
<g clip-path="url(#cr)"><polygon points="361.11,399.8 364.11,405.8 358.11,405.8" fill="#1414f0"/></g>
<polyline clip-path="url(#cm)" points="59.73,103.45 75.38,121.66 91.04,140.26 106.7,157.26 122.35,172.19 134.09,180.4 141.92,187.94 149.75,193.18 157.58,197.25 165.41,200.69 173.23,202.2 181.06,207.46 188.89,211.53 196.72,211.48 204.55,213.2 212.37,214.26 220.2,214.19 228.03,214.86 235.86,218.97 243.69,222.56 251.51,218.72 259.34,225.5 267.17,223.2 275,226.2 282.83,224.7 290.65,223.9 298.48,230.4 306.31,225.3 314.14,229.3 321.97,230.4 329.79,230.4 337.62,234 345.45,234 353.28,237.9 361.11,241.7" fill="none" stroke="#ff0000" stroke-width="1.3" stroke-dasharray="1,1"/>
<polyline clip-path="url(#cr)" points="59.73,429.7 75.38,393.5 91.04,379.7 106.7,379.7 122.35,386.9 134.09,394.8 141.92,410.8 149.75,424.2 157.58,433.8 165.41,437.3 173.23,433.8 181.06,448 188.89,461.7 196.72,454.8 204.55,453 212.37,455.1 220.2,449.6 228.03,451 235.86,465.4 243.69,474.5 251.51,461.3 259.34,487.34 267.17,477.27 275,493.32 282.83,490.33 290.65,485.85 298.48,513.47 306.31,495.18 314.14,514.96 321.97,522.8 329.79,524.67 337.62,538.1 345.45,542.58 353.28,558.82 361.11,575.8" fill="none" stroke="#ff0000" stroke-width="1.3" stroke-dasharray="1,1"/>
<g clip-path="url(#cm)"><polygon points="59.73,100.25 61.93,103.45 59.73,106.65 57.53,103.45" fill="#ff0000"/></g>
<g clip-path="url(#cr)"><polygon points="59.73,426.5 61.93,429.7 59.73,432.9 57.53,429.7" fill="#ff0000"/></g>
<g clip-path="url(#cm)"><polygon points="75.38,118.46 77.58,121.66 75.38,124.86 73.18,121.66" fill="#ff0000"/></g>
<g clip-path="url(#cr)"><polygon points="75.38,390.3 77.58,393.5 75.38,396.7 73.18,393.5" fill="#ff0000"/></g>
<g clip-path="url(#cm)"><polygon points="91.04,137.06 93.24,140.26 91.04,143.46 88.84,140.26" fill="#ff0000"/></g>
<g clip-path="url(#cr)"><polygon points="91.04,376.5 93.24,379.7 91.04,382.9 88.84,379.7" fill="#ff0000"/></g>
<g clip-path="url(#cm)"><polygon points="106.7,154.06 108.9,157.26 106.7,160.46 104.5,157.26" fill="#ff0000"/></g>
<g clip-path="url(#cr)"><polygon points="106.7,376.5 108.9,379.7 106.7,382.9 104.5,379.7" fill="#ff0000"/></g>
<g clip-path="url(#cm)"><polygon points="122.35,168.99 124.55,172.19 122.35,175.39 120.15,172.19" fill="#ff0000"/></g>
<g clip-path="url(#cr)"><polygon points="122.35,383.7 124.55,386.9 122.35,390.1 120.15,386.9" fill="#ff0000"/></g>
<g clip-path="url(#cr)" stroke="#ff0000" stroke-width="1" stroke-dasharray="1,1"><path d="M134.09,388.8V391.6M134.09,398V400.8"/></g>
<g clip-path="url(#cm)"><polygon points="134.09,177.2 136.29,180.4 134.09,183.6 131.89,180.4" fill="#ff0000"/></g>
<g clip-path="url(#cr)"><polygon points="134.09,391.6 136.29,394.8 134.09,398 131.89,394.8" fill="#ff0000"/></g>
<g clip-path="url(#cr)" stroke="#ff0000" stroke-width="1" stroke-dasharray="1,1"><path d="M141.92,404.8V407.6M141.92,414V416.8"/></g>
<g clip-path="url(#cm)"><polygon points="141.92,184.74 144.12,187.94 141.92,191.14 139.72,187.94" fill="#ff0000"/></g>
<g clip-path="url(#cr)"><polygon points="141.92,407.6 144.12,410.8 141.92,414 139.72,410.8" fill="#ff0000"/></g>
<g clip-path="url(#cr)" stroke="#ff0000" stroke-width="1" stroke-dasharray="1,1"><path d="M149.75,418.2V421M149.75,427.4V430.2"/></g>
<g clip-path="url(#cm)"><polygon points="149.75,189.98 151.95,193.18 149.75,196.38 147.55,193.18" fill="#ff0000"/></g>
<g clip-path="url(#cr)"><polygon points="149.75,421 151.95,424.2 149.75,427.4 147.55,424.2" fill="#ff0000"/></g>
<g clip-path="url(#cr)" stroke="#ff0000" stroke-width="1" stroke-dasharray="1,1"><path d="M157.58,427.8V430.6M157.58,437V439.8"/></g>
<g clip-path="url(#cm)"><polygon points="157.58,194.05 159.78,197.25 157.58,200.45 155.38,197.25" fill="#ff0000"/></g>
<g clip-path="url(#cr)"><polygon points="157.58,430.6 159.78,433.8 157.58,437 155.38,433.8" fill="#ff0000"/></g>
<g clip-path="url(#cr)" stroke="#ff0000" stroke-width="1" stroke-dasharray="1,1"><path d="M165.41,431.3V434.1M165.41,440.5V443.3"/></g>
<g clip-path="url(#cm)"><polygon points="165.41,197.49 167.61,200.69 165.41,203.89 163.21,200.69" fill="#ff0000"/></g>
<g clip-path="url(#cr)"><polygon points="165.41,434.1 167.61,437.3 165.41,440.5 163.21,437.3" fill="#ff0000"/></g>
<g clip-path="url(#cr)" stroke="#ff0000" stroke-width="1" stroke-dasharray="1,1"><path d="M173.23,427.8V430.6M173.23,437V439.8"/></g>
<g clip-path="url(#cm)"><polygon points="173.23,199 175.43,202.2 173.23,205.4 171.03,202.2" fill="#ff0000"/></g>
<g clip-path="url(#cr)"><polygon points="173.23,430.6 175.43,433.8 173.23,437 171.03,433.8" fill="#ff0000"/></g>
<g clip-path="url(#cr)" stroke="#ff0000" stroke-width="1" stroke-dasharray="1,1"><path d="M181.06,442V444.8M181.06,451.2V454"/></g>
<g clip-path="url(#cm)"><polygon points="181.06,204.26 183.26,207.46 181.06,210.66 178.86,207.46" fill="#ff0000"/></g>
<g clip-path="url(#cr)"><polygon points="181.06,444.8 183.26,448 181.06,451.2 178.86,448" fill="#ff0000"/></g>
<g clip-path="url(#cr)" stroke="#ff0000" stroke-width="1" stroke-dasharray="1,1"><path d="M188.89,455.7V458.5M188.89,464.9V467.7"/></g>
<g clip-path="url(#cm)"><polygon points="188.89,208.33 191.09,211.53 188.89,214.73 186.69,211.53" fill="#ff0000"/></g>
<g clip-path="url(#cr)"><polygon points="188.89,458.5 191.09,461.7 188.89,464.9 186.69,461.7" fill="#ff0000"/></g>
<g clip-path="url(#cr)" stroke="#ff0000" stroke-width="1" stroke-dasharray="1,1"><path d="M196.72,448.8V451.6M196.72,458V460.8"/></g>
<g clip-path="url(#cm)"><polygon points="196.72,208.28 198.92,211.48 196.72,214.68 194.52,211.48" fill="#ff0000"/></g>
<g clip-path="url(#cr)"><polygon points="196.72,451.6 198.92,454.8 196.72,458 194.52,454.8" fill="#ff0000"/></g>
<g clip-path="url(#cr)" stroke="#ff0000" stroke-width="1" stroke-dasharray="1,1"><path d="M204.55,447V449.8M204.55,456.2V459"/></g>
<g clip-path="url(#cm)"><polygon points="204.55,210 206.75,213.2 204.55,216.4 202.35,213.2" fill="#ff0000"/></g>
<g clip-path="url(#cr)"><polygon points="204.55,449.8 206.75,453 204.55,456.2 202.35,453" fill="#ff0000"/></g>
<g clip-path="url(#cr)" stroke="#ff0000" stroke-width="1" stroke-dasharray="1,1"><path d="M212.37,449.1V451.9M212.37,458.3V461.1"/></g>
<g clip-path="url(#cm)"><polygon points="212.37,211.06 214.57,214.26 212.37,217.46 210.17,214.26" fill="#ff0000"/></g>
<g clip-path="url(#cr)"><polygon points="212.37,451.9 214.57,455.1 212.37,458.3 210.17,455.1" fill="#ff0000"/></g>
<g clip-path="url(#cr)" stroke="#ff0000" stroke-width="1" stroke-dasharray="1,1"><path d="M220.2,443.6V446.4M220.2,452.8V455.6"/></g>
<g clip-path="url(#cm)"><polygon points="220.2,210.99 222.4,214.19 220.2,217.39 218,214.19" fill="#ff0000"/></g>
<g clip-path="url(#cr)"><polygon points="220.2,446.4 222.4,449.6 220.2,452.8 218,449.6" fill="#ff0000"/></g>
<g clip-path="url(#cr)" stroke="#ff0000" stroke-width="1" stroke-dasharray="1,1"><path d="M228.03,445V447.8M228.03,454.2V457"/></g>
<g clip-path="url(#cm)"><polygon points="228.03,211.66 230.23,214.86 228.03,218.06 225.83,214.86" fill="#ff0000"/></g>
<g clip-path="url(#cr)"><polygon points="228.03,447.8 230.23,451 228.03,454.2 225.83,451" fill="#ff0000"/></g>
<g clip-path="url(#cr)" stroke="#ff0000" stroke-width="1" stroke-dasharray="1,1"><path d="M235.86,459.4V462.2M235.86,468.6V471.4"/></g>
<g clip-path="url(#cm)"><polygon points="235.86,215.77 238.06,218.97 235.86,222.17 233.66,218.97" fill="#ff0000"/></g>
<g clip-path="url(#cr)"><polygon points="235.86,462.2 238.06,465.4 235.86,468.6 233.66,465.4" fill="#ff0000"/></g>
<g clip-path="url(#cr)" stroke="#ff0000" stroke-width="1" stroke-dasharray="1,1"><path d="M243.69,468.5V471.3M243.69,477.7V480.5"/></g>
<g clip-path="url(#cm)"><polygon points="243.69,219.36 245.89,222.56 243.69,225.76 241.49,222.56" fill="#ff0000"/></g>
<g clip-path="url(#cr)"><polygon points="243.69,471.3 245.89,474.5 243.69,477.7 241.49,474.5" fill="#ff0000"/></g>
<g clip-path="url(#cr)" stroke="#ff0000" stroke-width="1" stroke-dasharray="1,1"><path d="M251.51,455.3V458.1M251.51,464.5V467.3"/></g>
<g clip-path="url(#cm)"><polygon points="251.51,215.52 253.71,218.72 251.51,221.92 249.31,218.72" fill="#ff0000"/></g>
<g clip-path="url(#cr)"><polygon points="251.51,458.1 253.71,461.3 251.51,464.5 249.31,461.3" fill="#ff0000"/></g>
<g clip-path="url(#cr)" stroke="#ff0000" stroke-width="1" stroke-dasharray="1,1"><path d="M259.34,481.34V484.14M259.34,490.54V493.34"/></g>
<g clip-path="url(#cm)"><polygon points="259.34,222.3 261.54,225.5 259.34,228.7 257.14,225.5" fill="#ff0000"/></g>
<g clip-path="url(#cr)"><polygon points="259.34,484.14 261.54,487.34 259.34,490.54 257.14,487.34" fill="#ff0000"/></g>
<g clip-path="url(#cr)" stroke="#ff0000" stroke-width="1" stroke-dasharray="1,1"><path d="M267.17,471.27V474.07M267.17,480.47V483.27"/></g>
<g clip-path="url(#cm)"><polygon points="267.17,220 269.37,223.2 267.17,226.4 264.97,223.2" fill="#ff0000"/></g>
<g clip-path="url(#cr)"><polygon points="267.17,474.07 269.37,477.27 267.17,480.47 264.97,477.27" fill="#ff0000"/></g>
<g clip-path="url(#cr)" stroke="#ff0000" stroke-width="1" stroke-dasharray="1,1"><path d="M275,487.32V490.12M275,496.52V499.32"/></g>
<g clip-path="url(#cm)"><polygon points="275,223 277.2,226.2 275,229.4 272.8,226.2" fill="#ff0000"/></g>
<g clip-path="url(#cr)"><polygon points="275,490.12 277.2,493.32 275,496.52 272.8,493.32" fill="#ff0000"/></g>
<g clip-path="url(#cr)" stroke="#ff0000" stroke-width="1" stroke-dasharray="1,1"><path d="M282.83,484.33V487.13M282.83,493.53V496.33"/></g>
<g clip-path="url(#cm)"><polygon points="282.83,221.5 285.03,224.7 282.83,227.9 280.63,224.7" fill="#ff0000"/></g>
<g clip-path="url(#cr)"><polygon points="282.83,487.13 285.03,490.33 282.83,493.53 280.63,490.33" fill="#ff0000"/></g>
<g clip-path="url(#cr)" stroke="#ff0000" stroke-width="1" stroke-dasharray="1,1"><path d="M290.65,479.85V482.65M290.65,489.05V491.85"/></g>
<g clip-path="url(#cm)"><polygon points="290.65,220.7 292.85,223.9 290.65,227.1 288.45,223.9" fill="#ff0000"/></g>
<g clip-path="url(#cr)"><polygon points="290.65,482.65 292.85,485.85 290.65,489.05 288.45,485.85" fill="#ff0000"/></g>
<g clip-path="url(#cr)" stroke="#ff0000" stroke-width="1" stroke-dasharray="1,1"><path d="M298.48,507.47V510.27M298.48,516.67V519.47"/></g>
<g clip-path="url(#cm)"><polygon points="298.48,227.2 300.68,230.4 298.48,233.6 296.28,230.4" fill="#ff0000"/></g>
<g clip-path="url(#cr)"><polygon points="298.48,510.27 300.68,513.47 298.48,516.67 296.28,513.47" fill="#ff0000"/></g>
<g clip-path="url(#cr)" stroke="#ff0000" stroke-width="1" stroke-dasharray="1,1"><path d="M306.31,489.18V491.98M306.31,498.38V501.18"/></g>
<g clip-path="url(#cm)"><polygon points="306.31,222.1 308.51,225.3 306.31,228.5 304.11,225.3" fill="#ff0000"/></g>
<g clip-path="url(#cr)"><polygon points="306.31,491.98 308.51,495.18 306.31,498.38 304.11,495.18" fill="#ff0000"/></g>
<g clip-path="url(#cr)" stroke="#ff0000" stroke-width="1" stroke-dasharray="1,1"><path d="M314.14,508.96V511.76M314.14,518.16V520.96"/></g>
<g clip-path="url(#cm)"><polygon points="314.14,226.1 316.34,229.3 314.14,232.5 311.94,229.3" fill="#ff0000"/></g>
<g clip-path="url(#cr)"><polygon points="314.14,511.76 316.34,514.96 314.14,518.16 311.94,514.96" fill="#ff0000"/></g>
<g clip-path="url(#cr)" stroke="#ff0000" stroke-width="1" stroke-dasharray="1,1"><path d="M321.97,516.8V519.6M321.97,526V528.8"/></g>
<g clip-path="url(#cm)"><polygon points="321.97,227.2 324.17,230.4 321.97,233.6 319.77,230.4" fill="#ff0000"/></g>
<g clip-path="url(#cr)"><polygon points="321.97,519.6 324.17,522.8 321.97,526 319.77,522.8" fill="#ff0000"/></g>
<g clip-path="url(#cr)" stroke="#ff0000" stroke-width="1" stroke-dasharray="1,1"><path d="M329.79,518.67V521.47M329.79,527.87V530.67"/></g>
<g clip-path="url(#cm)"><polygon points="329.79,227.2 331.99,230.4 329.79,233.6 327.59,230.4" fill="#ff0000"/></g>
<g clip-path="url(#cr)"><polygon points="329.79,521.47 331.99,524.67 329.79,527.87 327.59,524.67" fill="#ff0000"/></g>
<g clip-path="url(#cr)" stroke="#ff0000" stroke-width="1" stroke-dasharray="1,1"><path d="M337.62,532.1V534.9M337.62,541.3V544.1"/></g>
<g clip-path="url(#cm)"><polygon points="337.62,230.8 339.82,234 337.62,237.2 335.42,234" fill="#ff0000"/></g>
<g clip-path="url(#cr)"><polygon points="337.62,534.9 339.82,538.1 337.62,541.3 335.42,538.1" fill="#ff0000"/></g>
<g clip-path="url(#cr)" stroke="#ff0000" stroke-width="1" stroke-dasharray="1,1"><path d="M345.45,536.58V539.38M345.45,545.78V548.58"/></g>
<g clip-path="url(#cm)"><polygon points="345.45,230.8 347.65,234 345.45,237.2 343.25,234" fill="#ff0000"/></g>
<g clip-path="url(#cr)"><polygon points="345.45,539.38 347.65,542.58 345.45,545.78 343.25,542.58" fill="#ff0000"/></g>
<g clip-path="url(#cr)" stroke="#ff0000" stroke-width="1" stroke-dasharray="1,1"><path d="M353.28,552.82V555.62M353.28,562.02V564.82"/></g>
<g clip-path="url(#cm)"><polygon points="353.28,234.7 355.48,237.9 353.28,241.1 351.08,237.9" fill="#ff0000"/></g>
<g clip-path="url(#cr)"><polygon points="353.28,555.62 355.48,558.82 353.28,562.02 351.08,558.82" fill="#ff0000"/></g>
<g clip-path="url(#cr)" stroke="#ff0000" stroke-width="1" stroke-dasharray="1,1"><path d="M361.11,569.8V572.6M361.11,579V581.8"/></g>
<g clip-path="url(#cm)"><polygon points="361.11,238.5 363.31,241.7 361.11,244.9 358.91,241.7" fill="#ff0000"/></g>
<g clip-path="url(#cr)"><polygon points="361.11,572.6 363.31,575.8 361.11,579 358.91,575.8" fill="#ff0000"/></g>
<g stroke="#000" stroke-width="1" fill="none">
<path d="M45.5,17 V478.6" stroke-width="1.1"/>
<path d="M371.2,17 V478.6" stroke-width="1.4"/>
<path d="M45,17.5 H371.9" stroke-width="1.1"/>
<path d="M45,317.4 H371.9" stroke-width="1.3"/>
<path d="M45,477.7 H371.9" stroke-width="1.8"/>
<path stroke-width="1.15" d="M45.5,314.81h5.6M371.5,314.81h-5.6M45.5,311.69h5.6M371.5,311.69h-5.6M45.5,308.93h5.6M371.5,308.93h-5.6M45.5,306.46h11.2M371.5,306.46h-11.2M45.5,290.23h5.6M371.5,290.23h-5.6M45.5,280.73h5.6M371.5,280.73h-5.6M45.5,274h5.6M371.5,274h-5.6M45.5,268.77h5.6M371.5,268.77h-5.6M45.5,264.5h5.6M371.5,264.5h-5.6M45.5,260.89h5.6M371.5,260.89h-5.6M45.5,257.77h5.6M371.5,257.77h-5.6M45.5,255.01h5.6M371.5,255.01h-5.6M45.5,252.54h11.2M371.5,252.54h-11.2M45.5,236.31h5.6M371.5,236.31h-5.6M45.5,226.81h5.6M371.5,226.81h-5.6M45.5,220.08h5.6M371.5,220.08h-5.6M45.5,214.85h5.6M371.5,214.85h-5.6M45.5,210.58h5.6M371.5,210.58h-5.6M45.5,206.97h5.6M371.5,206.97h-5.6M45.5,203.85h5.6M371.5,203.85h-5.6M45.5,201.09h5.6M371.5,201.09h-5.6M45.5,198.62h11.2M371.5,198.62h-11.2M45.5,182.39h5.6M371.5,182.39h-5.6M45.5,172.89h5.6M371.5,172.89h-5.6M45.5,166.16h5.6M371.5,166.16h-5.6M45.5,160.93h5.6M371.5,160.93h-5.6M45.5,156.66h5.6M371.5,156.66h-5.6M45.5,153.05h5.6M371.5,153.05h-5.6M45.5,149.93h5.6M371.5,149.93h-5.6M45.5,147.17h5.6M371.5,147.17h-5.6M45.5,144.7h11.2M371.5,144.7h-11.2M45.5,128.47h5.6M371.5,128.47h-5.6M45.5,118.97h5.6M371.5,118.97h-5.6M45.5,112.24h5.6M371.5,112.24h-5.6M45.5,107.01h5.6M371.5,107.01h-5.6M45.5,102.74h5.6M371.5,102.74h-5.6M45.5,99.13h5.6M371.5,99.13h-5.6M45.5,96.01h5.6M371.5,96.01h-5.6M45.5,93.25h5.6M371.5,93.25h-5.6M45.5,90.78h11.2M371.5,90.78h-11.2M45.5,74.55h5.6M371.5,74.55h-5.6M45.5,65.05h5.6M371.5,65.05h-5.6M45.5,58.32h5.6M371.5,58.32h-5.6M45.5,53.09h5.6M371.5,53.09h-5.6M45.5,48.82h5.6M371.5,48.82h-5.6M45.5,45.21h5.6M371.5,45.21h-5.6M45.5,42.09h5.6M371.5,42.09h-5.6M45.5,39.33h5.6M371.5,39.33h-5.6M45.5,36.86h11.2M371.5,36.86h-11.2M45.5,20.63h5.6M371.5,20.63h-5.6M45.5,458.18h7.2M371.5,458.18h-7.2M45.5,442.23h5.2M371.5,442.23h-5.2M45.5,428.75h5.2M371.5,428.75h-5.2M45.5,417.07h5.2M371.5,417.07h-5.2M45.5,406.77h5.2M371.5,406.77h-5.2M45.5,397.55h7.2M371.5,397.55h-7.2M45.5,389.21h5.2M371.5,389.21h-5.2M45.5,381.6h5.2M371.5,381.6h-5.2M45.5,374.6h5.2M371.5,374.6h-5.2M45.5,368.12h5.2M371.5,368.12h-5.2M45.5,362.09h7.2M371.5,362.09h-7.2M45.5,356.44h5.2M371.5,356.44h-5.2M45.5,351.14h5.2M371.5,351.14h-5.2M45.5,346.14h5.2M371.5,346.14h-5.2M45.5,341.41h5.2M371.5,341.41h-5.2M45.5,336.92h7.2M371.5,336.92h-7.2M45.5,332.66h5.2M371.5,332.66h-5.2M45.5,328.59h5.2M371.5,328.59h-5.2M45.5,324.7h5.2M371.5,324.7h-5.2M45.5,320.98h5.2M371.5,320.98h-5.2M45.5,317.4h5.2M371.5,317.4h-5.2M51.9,17.5v8M51.9,317.5v-8M51.9,317.5v5.5M51.9,477.5v-5M71.47,17.5v4.2M71.47,317.5v-4M71.47,317.5v2.7M71.47,477.5v-2.5M91.04,17.5v4.2M91.04,317.5v-4M91.04,317.5v2.7M91.04,477.5v-2.5M110.61,17.5v4.2M110.61,317.5v-4M110.61,317.5v2.7M110.61,477.5v-2.5M130.18,17.5v8M130.18,317.5v-8M130.18,317.5v5.5M130.18,477.5v-5M149.75,17.5v4.2M149.75,317.5v-4M149.75,317.5v2.7M149.75,477.5v-2.5M169.32,17.5v4.2M169.32,317.5v-4M169.32,317.5v2.7M169.32,477.5v-2.5M188.89,17.5v4.2M188.89,317.5v-4M188.89,317.5v2.7M188.89,477.5v-2.5M208.46,17.5v8M208.46,317.5v-8M208.46,317.5v5.5M208.46,477.5v-5M228.03,17.5v4.2M228.03,317.5v-4M228.03,317.5v2.7M228.03,477.5v-2.5M247.6,17.5v4.2M247.6,317.5v-4M247.6,317.5v2.7M247.6,477.5v-2.5M267.17,17.5v4.2M267.17,317.5v-4M267.17,317.5v2.7M267.17,477.5v-2.5M286.74,17.5v8M286.74,317.5v-8M286.74,317.5v5.5M286.74,477.5v-5M306.31,17.5v4.2M306.31,317.5v-4M306.31,317.5v2.7M306.31,477.5v-2.5M325.88,17.5v4.2M325.88,317.5v-4M325.88,317.5v2.7M325.88,477.5v-2.5M345.45,17.5v4.2M345.45,317.5v-4M345.45,317.5v2.7M345.45,477.5v-2.5M365.02,17.5v8M365.02,317.5v-8M365.02,317.5v5.5M365.02,477.5v-5"/>
</g>
<text transform="matrix(1,0,0,1.05,0,-1.895)" x="35.36" y="37.90" font-size="7.7" fill="#000">3</text>
<text transform="matrix(1,0,0,1.05,0,-2.095)" x="23.24" y="41.90" font-size="11" fill="#000">10</text>
<text transform="matrix(1,0,0,1.05,0,-4.630)" x="35.40" y="92.60" font-size="7.7" fill="#000">2</text>
<text transform="matrix(1,0,0,1.05,0,-4.830)" x="23.39" y="96.60" font-size="11" fill="#000">10</text>
<text transform="matrix(1,0,0,1.05,0,-7.450)" x="27.49" y="149.00" font-size="11" fill="#000">10</text>
<text transform="matrix(1,0,0,1.05,0,-10.155)" x="33.72" y="203.10" font-size="11" fill="#000">1</text>
<text transform="matrix(1,0,0,1.05,0,-12.705)" x="30.90" y="254.10" font-size="7.7" fill="#000">−1</text>
<text transform="matrix(1,0,0,1.05,0,-12.905)" x="18.87" y="258.10" font-size="11" fill="#000">10</text>
<text transform="matrix(1,0,0,1.05,0,-15.345)" x="30.91" y="306.90" font-size="7.7" fill="#000">−2</text>
<text transform="matrix(1,0,0,1.05,0,-15.545)" x="18.88" y="310.90" font-size="11" fill="#000">10</text>
<text transform="matrix(1,0,0,1.05,0,-17.030)" x="32.44" y="340.60" font-size="11" fill="#000">2</text>
<text transform="matrix(1,0,0,1.05,0,-17.030)" x="373.45" y="340.60" font-size="11" fill="#000">2</text>
<text transform="matrix(1,0,0,1.05,0,-20.100)" x="32.42" y="402.00" font-size="11" fill="#000">1</text>
<text transform="matrix(1,0,0,1.05,0,-20.100)" x="373.16" y="402.00" font-size="11" fill="#000">1</text>
<text transform="matrix(1,0,0,1.05,0,-23.110)" x="22.47" y="462.20" font-size="11" fill="#000" letter-spacing="0.7">0.5</text>
<text transform="matrix(1,0,0,1.05,0,-23.110)" x="373.57" y="462.20" font-size="11" fill="#000" letter-spacing="0.7">0.5</text>
<text transform="matrix(1,0,0,1.05,0,-24.430)" x="48.84" y="488.60" font-size="11" fill="#000">0</text>
<text transform="matrix(1,0,0,1.05,0,-24.430)" x="127.12" y="488.60" font-size="11" fill="#000">2</text>
<text transform="matrix(1,0,0,1.05,0,-24.430)" x="205.44" y="488.60" font-size="11" fill="#000">4</text>
<text transform="matrix(1,0,0,1.05,0,-24.430)" x="283.64" y="488.60" font-size="11" fill="#000">6</text>
<text transform="matrix(1,0,0,1.05,0,-24.430)" x="361.96" y="488.60" font-size="11" fill="#000">8</text>
<text transform="matrix(1,0,0,1.05,0,-0.715)" x="50.98" y="14.30" font-size="12.0" fill="#000">7000 GeV pp</text>
<text transform="matrix(1,0,0,1.05,0,-0.710)" x="315.46" y="14.20" font-size="11.85" fill="#000">Soft QCD</text>
<text transform="matrix(1,0,0,1.05,0,-2.065)" x="54.62" y="41.30" font-size="12.0" fill="#000">Rapidity gap size in</text>
<text transform="matrix(1,0,0,1.05,0,-2.065)" x="159.08" y="41.30" font-size="12.0" fill="#000">η</text>
<text transform="matrix(1,0,0,1.05,0,-2.065)" x="169.07" y="41.30" font-size="12.0" fill="#000">starting from</text>
<text transform="matrix(1,0,0,1.05,0,-2.065)" x="236.32" y="41.30" font-size="13.2" fill="#000">η</text>
<text transform="matrix(1,0,0,1.05,0,-2.065)" x="246.41" y="41.30" font-size="12.0" fill="#000">=</text>
<text transform="matrix(1,0,0,1.05,0,-2.065)" x="255.62" y="41.30" font-size="12.0" fill="#000">±</text>
<text transform="matrix(1,0,0,1.05,0,-2.065)" x="266.92" y="41.30" font-size="12.0" fill="#000">4.9,</text>
<text transform="matrix(1,0,0,1.05,0,-2.065)" x="289.23" y="41.30" font-size="12.0" fill="#000">p</text>
<text transform="matrix(1,0,0,1.05,0,-2.405)" x="296.71" y="48.10" font-size="8.3" fill="#000">T</text>
<text transform="matrix(1,0,0,1.05,0,-2.065)" x="304.31" y="41.30" font-size="12.0" fill="#000">&gt;</text>
<text transform="matrix(1,0,0,1.05,0,-2.065)" x="314.40" y="41.30" font-size="12.0" fill="#000">200</text>
<text transform="matrix(1,0,0,1.05,0,-2.065)" x="338.82" y="41.30" font-size="12.0" fill="#000">MeV</text>
<text transform="matrix(1,0,0,1.05,0,-10.680)" x="94.48" y="213.60" font-size="9.4" fill="#000">ATLAS</text>
<text transform="matrix(1,0,0,1.05,0,-11.328)" x="93.73" y="226.55" font-size="9.4" fill="#000">Epos 1.99.crmc.1.6.0 lhc</text>
<text transform="matrix(1,0,0,1.05,0,-11.975)" x="93.73" y="239.50" font-size="9.4" fill="#000">Herwig 7.2.1 default</text>
<text transform="matrix(1,0,0,1.05,0,-12.623)" x="93.73" y="252.45" font-size="9.4" fill="#000">Pythia 6.428 370</text>
<text transform="matrix(1,0,0,1.05,0,-13.270)" x="93.73" y="265.40" font-size="9.4" fill="#000">Pythia 8.315 default</text>
<text transform="matrix(1,0,0,1.05,0,-13.918)" x="94.07" y="278.35" font-size="9.4" fill="#000">Sherpa 1.4.5 default</text>
<rect x="73.8" y="208.5" width="5.3" height="5.3" fill="#000"/>
<line x1="64" y1="224.05" x2="89" y2="224.05" stroke="#ff8c8c" stroke-width="1.0"/>
<polygon points="76.4,221.25 79,224.05 76.4,226.85 73.8,224.05" fill="#ffb4b4" stroke="#ff8c8c" stroke-width="1.2"/>
<path d="M75.4,222.65h2M75.4,225.45h2" stroke="#ff8c8c" stroke-width="0.8"/>
<line x1="64" y1="237" x2="89" y2="237" stroke="#339a11" stroke-width="1.0" stroke-dasharray="3,2"/>
<rect x="73.8" y="234.4" width="5.2" height="5.2" fill="#fff" stroke="#339a11" stroke-width="1.1"/>
<path d="M75.4,235.6h2M75.4,238.4h2" stroke="#339a11" stroke-width="0.8"/>
<line x1="64" y1="249.95" x2="89" y2="249.95" stroke="#a30a28" stroke-width="1.0"/>
<polygon points="76.4,246.65 79.6,252.45 73.2,252.45" fill="#fff" stroke="#a30a28" stroke-width="1.1"/>
<line x1="64" y1="262.9" x2="89" y2="262.9" stroke="#1414f0" stroke-width="1.0"/>
<polygon points="76.4,259.4 79.4,265.4 73.4,265.4" fill="#1414f0"/>
<line x1="64" y1="275.85" x2="89" y2="275.85" stroke="#ff0000" stroke-width="1.0" stroke-dasharray="1,1"/>
<polygon points="76.4,272.65 78.6,275.85 76.4,279.05 74.2,275.85" fill="#ff0000"/>
<text transform="matrix(1,0,0,1.05,0,-15.090)" x="162.60" y="301.80" font-size="8.0" fill="#999">(ATLAS_2012_I1084540)</text>
<g transform="translate(16.60,91.27) rotate(-90) scale(1,1.05)"><text x="0" y="0" font-size="11.2" fill="#000">dσ / dΔ</text></g>
<g transform="translate(16.60,56.27) rotate(-90) scale(1,1.05)"><text x="0" y="0" font-size="13.0" fill="#000">η</text></g>
<g transform="translate(11.60,47.20) rotate(-90) scale(1,1.05)"><text x="0" y="0" font-size="7.3" fill="#000">F</text></g>
<g transform="translate(16.80,39.40) rotate(-90) scale(1,1.05)"><text x="0" y="0" font-size="11.2" fill="#000">[mb]</text></g>
<g transform="translate(18.30,427.45) rotate(-90) scale(1,1.05)"><text x="0" y="0" font-size="9.15" fill="#000">Ratio to ATLAS</text></g>
<g transform="translate(380.00,126.97) rotate(-90) scale(1,1.05)"><text x="0" y="0" font-size="9.34" fill="#777">Rivet 4.1.0, ≥ 100k events</text></g>
<g transform="translate(380.60,313.52) rotate(-90) scale(1,1.05)"><text x="0" y="0" font-size="9.41" fill="#777">mcplots.cern.ch [arXiv:2401.10621]</text></g>
<text transform="matrix(1,0,0,1.05,0,-25.230)" x="350.67" y="504.60" font-size="11" fill="#000">Δ</text>
<text transform="matrix(1,0,0,1.05,0,-25.230)" x="358.90" y="504.60" font-size="13.5" fill="#000">η</text>
<text transform="matrix(1,0,0,1.05,0,-24.930)" x="365.98" y="498.60" font-size="7.6" fill="#000">F</text>
</svg>
</body></html>
